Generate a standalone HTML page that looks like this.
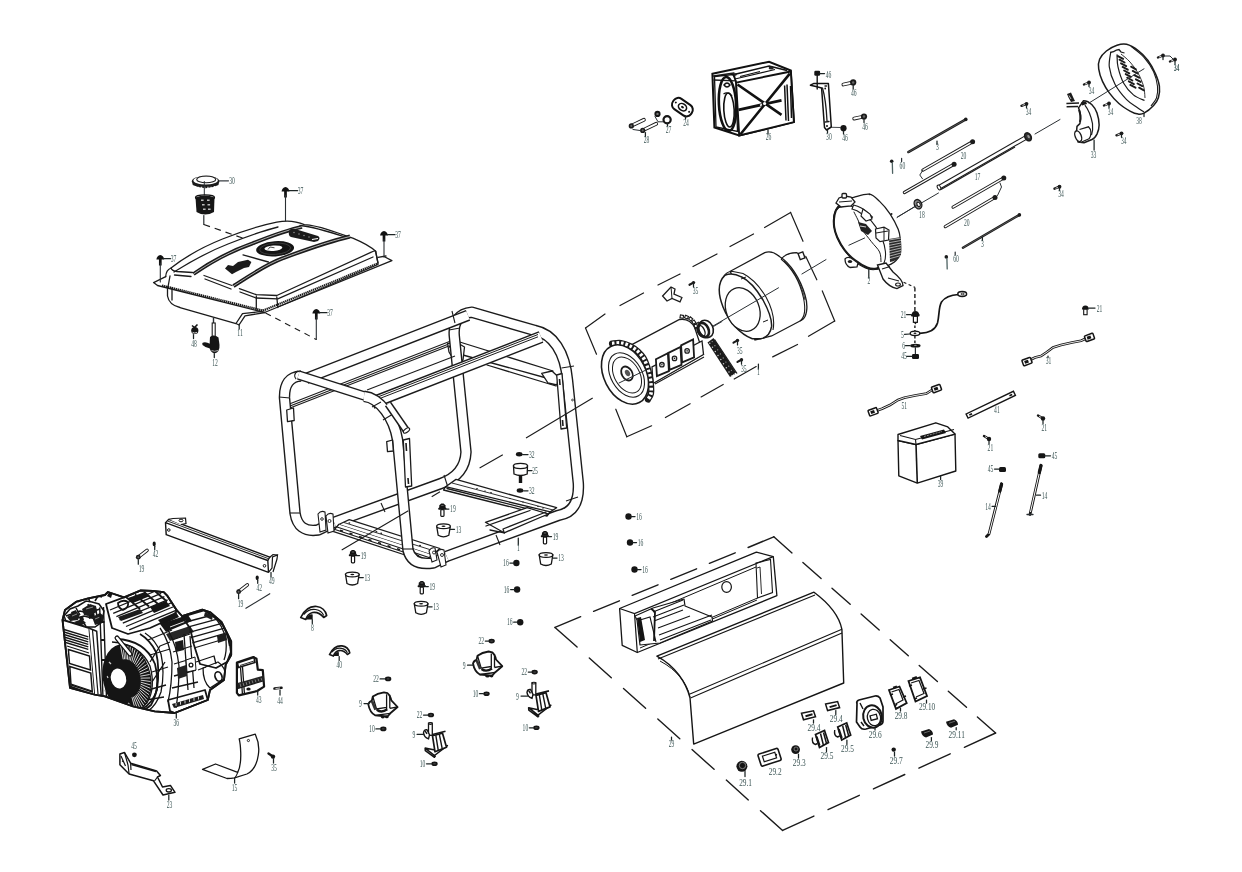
<!DOCTYPE html>
<html><head><meta charset="utf-8"><style>
html,body{margin:0;padding:0;background:#fff;width:1242px;height:872px;overflow:hidden}
svg{display:block}
.l{font-family:"Liberation Serif",serif;font-size:9.4px;fill:#3d5656}
</style></head><body>
<svg width="1242" height="872" viewBox="0 0 1242 872">
<rect width="1242" height="872" fill="#fff"/>
<path d="M459.7,342 L553,371 M452,352 L550,379 M487,365 L556,386" stroke="#1b1b1b" fill="none" stroke-width="1.3" stroke-linejoin="round" stroke-linecap="round"/>
<path d="M541.7,373.3 L552,371 L558.3,377 L557,385 L548,383 Z" fill="#fff" stroke="#1b1b1b" fill="none" stroke-width="1.3" stroke-linejoin="round" stroke-linecap="round"/>
<path d="M290,403.7 L452,340.5" stroke="#1b1b1b" stroke-width="1.1"/>
<path d="M290,406.0 L452,342.8" stroke="#1b1b1b" stroke-width="1.1"/>
<path d="M290,407.9 L452,344.7" stroke="#1b1b1b" stroke-width="1.1"/>
<path d="M447.6,343.7 L456,342 L464.5,347 L463,360 L455,362.2 L449,352 Z" fill="#fff" stroke="#1b1b1b" fill="none" stroke-width="1.3" stroke-linejoin="round" stroke-linecap="round"/>
<path d="M449,346 L458,356 M452,345 L461,355" stroke="#1b1b1b" fill="none" stroke-width="1.3" stroke-linejoin="round" stroke-linecap="round"/>
<path d="M334,522.3 L441,483.5 Q465,475 466,452 L454.3,336 Q452.5,314 472,312.2 L535,330.5 C553,334 565,352 567.5,380 L578.3,483 Q580,512 558,515.5 L446.6,556.4" stroke="#1b1b1b" stroke-width="11.5" fill="none" stroke-linecap="butt" stroke-linejoin="round"/><path d="M334,522.3 L441,483.5 Q465,475 466,452 L454.3,336 Q452.5,314 472,312.2 L535,330.5 C553,334 565,352 567.5,380 L578.3,483 Q580,512 558,515.5 L446.6,556.4" stroke="#fff" stroke-width="8.7" fill="none" stroke-linecap="butt" stroke-linejoin="round"/>
<path d="M449,330 L460,328" stroke="#1b1b1b" stroke-width="1.1"/>
<path d="M444,475 L448,487.5" stroke="#1b1b1b" stroke-width="1.1"/>
<path d="M561.5,368 L574,366" stroke="#1b1b1b" stroke-width="1.1"/>
<path d="M566,501 L578,497" stroke="#1b1b1b" stroke-width="1.1"/>
<path d="M306,378.5 L468,315.3" stroke="#1b1b1b" stroke-width="11.5" fill="none" stroke-linecap="butt" stroke-linejoin="round"/><path d="M306,378.5 L468,315.3" stroke="#fff" stroke-width="8.7" fill="none" stroke-linecap="butt" stroke-linejoin="round"/>
<path d="M452,311 L455,323" stroke="#1b1b1b" stroke-width="1.1"/>
<path d="M367,390 L455,355.9" stroke="#1b1b1b" stroke-width="1.1"/>
<path d="M372,402.9 L541,337.0" stroke="#1b1b1b" stroke-width="12.4" fill="none" stroke-linecap="butt" stroke-linejoin="round"/><path d="M372,402.9 L541,337.0" stroke="#fff" stroke-width="9.600000000000001" fill="none" stroke-linecap="butt" stroke-linejoin="round"/>
<path d="M378,396.9 L538,334.5" stroke="#1b1b1b" stroke-width="1.0"/>
<path d="M378,399.2 L538,336.8" stroke="#1b1b1b" stroke-width="1.0"/>
<path d="M301,376 Q284,377 284.5,398 L295,513 Q298,533 318,530 L334,522.3" stroke="#1b1b1b" stroke-width="11.5" fill="none" stroke-linecap="butt" stroke-linejoin="round"/><path d="M301,376 Q284,377 284.5,398 L295,513 Q298,533 318,530 L334,522.3" stroke="#fff" stroke-width="8.7" fill="none" stroke-linecap="butt" stroke-linejoin="round"/>
<path d="M279,397 L290,398" stroke="#1b1b1b" stroke-width="1.1"/>
<path d="M290,513 L300,513" stroke="#1b1b1b" stroke-width="1.1"/>
<path d="M298.5,375 L366,396.5" stroke="#1b1b1b" stroke-width="9.5" fill="none" stroke-linecap="butt" stroke-linejoin="round"/><path d="M298.5,375 L366,396.5" stroke="#fff" stroke-width="6.7" fill="none" stroke-linecap="butt" stroke-linejoin="round"/>
<path d="M349.3,519.7 L440,548.5 L432,555 L338.7,524.5 Z" fill="#fff" stroke="#1b1b1b" fill="none" stroke-width="1.3" stroke-linejoin="round" stroke-linecap="round"/>
<path d="M338.7,524.5 L332.9,531.3 L425,561.5 L432,555" fill="#fff" stroke="#1b1b1b" fill="none" stroke-width="1.3" stroke-linejoin="round" stroke-linecap="round"/>
<path d="M337,527 L429,557.5 M335,529.5 L427,559.8" stroke="#1b1b1b" stroke-width="1.2"/>
<path d="M344,522.5 L436,551.5" stroke="#1b1b1b" stroke-width="0.9"/>
<path d="M340.0,530.2 L343.0,531.2" stroke="#1b1b1b" stroke-width="1.6"/>
<path d="M349.5,533.3000000000001 L352.5,534.3000000000001" stroke="#1b1b1b" stroke-width="1.6"/>
<path d="M359.0,536.4000000000001 L362.0,537.4000000000001" stroke="#1b1b1b" stroke-width="1.6"/>
<path d="M368.5,539.5 L371.5,540.5" stroke="#1b1b1b" stroke-width="1.6"/>
<path d="M378.0,542.6 L381.0,543.6" stroke="#1b1b1b" stroke-width="1.6"/>
<path d="M387.5,545.7 L390.5,546.7" stroke="#1b1b1b" stroke-width="1.6"/>
<path d="M397.0,548.8000000000001 L400.0,549.8000000000001" stroke="#1b1b1b" stroke-width="1.6"/>
<path d="M406.5,551.9000000000001 L409.5,552.9000000000001" stroke="#1b1b1b" stroke-width="1.6"/>
<path d="M416.0,555.0 L419.0,556.0" stroke="#1b1b1b" stroke-width="1.6"/>
<ellipse cx="349.3" cy="523" rx="1" ry="0.7" fill="#1b1b1b"/>
<ellipse cx="376.4" cy="531.7" rx="1" ry="0.7" fill="#1b1b1b"/>
<ellipse cx="381.2" cy="533.2" rx="1" ry="0.7" fill="#1b1b1b"/>
<ellipse cx="407" cy="541.5" rx="1" ry="0.7" fill="#1b1b1b"/>
<ellipse cx="420" cy="545.5" rx="1" ry="0.7" fill="#1b1b1b"/>
<path d="M364,396.3 C380,398 394,418 397.6,440 L408,550 Q412,566 433,563 L446.6,556.4" stroke="#1b1b1b" stroke-width="11.5" fill="none" stroke-linecap="butt" stroke-linejoin="round"/><path d="M364,396.3 C380,398 394,418 397.6,440 L408,550 Q412,566 433,563 L446.6,556.4" stroke="#fff" stroke-width="8.7" fill="none" stroke-linecap="butt" stroke-linejoin="round"/>
<path d="M372,407 L381,402" stroke="#1b1b1b" stroke-width="1.1"/>
<path d="M383,420 L393,414" stroke="#1b1b1b" stroke-width="1.1"/>
<path d="M402.5,549 L413.5,549" stroke="#1b1b1b" stroke-width="1.1"/>
<path d="M297.7,371 Q292.5,375 296.1,379.1" stroke="#1b1b1b" stroke-width="1.1" fill="none"/>
<path d="M388,404 L406,430" stroke="#1b1b1b" stroke-width="7.5" fill="none" stroke-linecap="butt" stroke-linejoin="round"/><path d="M388,404 L406,430" stroke="#fff" stroke-width="4.7" fill="none" stroke-linecap="butt" stroke-linejoin="round"/>
<ellipse cx="406.5" cy="430.5" rx="3.6" ry="1.8" fill="#fff" stroke="#1b1b1b" stroke-width="1.1" transform="rotate(-35 406.5 430.5)"/>
<path d="M286.7,410 L293.5,408 L294.2,420.5 L287.5,421.7 Z" fill="#fff" stroke="#1b1b1b" fill="none" stroke-width="1.3" stroke-linejoin="round" stroke-linecap="round"/>
<path d="M386.7,441.7 L392.5,440 L393.3,451 L387.5,451.7 Z" fill="#fff" stroke="#1b1b1b" fill="none" stroke-width="1.3" stroke-linejoin="round" stroke-linecap="round"/>
<path d="M403.3,440 L409.5,438.5 L411.7,486 L405.5,487 Z" fill="#fff" stroke="#1b1b1b" fill="none" stroke-width="1.3" stroke-linejoin="round" stroke-linecap="round"/>
<path d="M406,443 L406.5,451 M408,478 L408.5,484" stroke="#1b1b1b" stroke-width="1.6"/>
<path d="M556.7,375 L562,373.5 L566.7,428 L561,429 Z" fill="#fff" stroke="#1b1b1b" fill="none" stroke-width="1.3" stroke-linejoin="round" stroke-linecap="round"/>
<path d="M559.5,379 L560,385 M562.5,420 L563,426" stroke="#1b1b1b" stroke-width="1.6"/>
<circle cx="572.5" cy="400" r="0.9" fill="none" stroke="#1b1b1b" stroke-width="0.8"/>
<path d="M456,479.4 L556.6,507.7 L550.3,511.9 L445.6,486.7 Z" fill="#fff" stroke="#1b1b1b" fill="none" stroke-width="1.3" stroke-linejoin="round" stroke-linecap="round"/>
<path d="M445.6,486.7 L443.5,490 L547,516 L550.3,511.9 M447,488.5 L548,514" stroke="#1b1b1b" fill="none" stroke-width="1.3" stroke-linejoin="round" stroke-linecap="round"/>
<path d="M452,483 L553,510" stroke="#1b1b1b" stroke-width="0.9"/>
<ellipse cx="477" cy="488.5" rx="0.9" ry="0.6" fill="#1b1b1b"/>
<ellipse cx="485" cy="491" rx="0.9" ry="0.6" fill="#1b1b1b"/>
<ellipse cx="491" cy="492.5" rx="0.9" ry="0.6" fill="#1b1b1b"/>
<ellipse cx="510" cy="498.5" rx="0.9" ry="0.6" fill="#1b1b1b"/>
<ellipse cx="523" cy="502" rx="0.9" ry="0.6" fill="#1b1b1b"/>
<ellipse cx="538" cy="506.5" rx="0.9" ry="0.6" fill="#1b1b1b"/>
<ellipse cx="543" cy="508" rx="0.9" ry="0.6" fill="#1b1b1b"/>
<path d="M485.4,522.3 L527.2,507.7 L548.2,514 L504.2,532.8 Z" fill="#fff" stroke="#1b1b1b" fill="none" stroke-width="1.3" stroke-linejoin="round" stroke-linecap="round"/>
<path d="M486,526 L530,510.5 M504.2,532.8 L503,529 L546,512" stroke="#1b1b1b" fill="none" stroke-width="1.3" stroke-linejoin="round" stroke-linecap="round"/>
<path d="M490,530 L504.2,532.8" stroke="#1b1b1b" fill="none" stroke-width="1.3" stroke-linejoin="round" stroke-linecap="round"/>
<path d="M429,551 Q431,547 435,548 L437,560 L432,562 Z M437,552 Q440,548 444,550 L446,565 L441,567 Z" fill="#fff" stroke="#1b1b1b" stroke-width="1.1"/>
<circle cx="434" cy="552.5" r="1.5" fill="none" stroke="#1b1b1b" stroke-width="0.9"/><circle cx="442" cy="555" r="1.5" fill="none" stroke="#1b1b1b" stroke-width="0.9"/>
<path d="M318,514 Q321,510 325,512 L326,530 L320,532 Z M326,516 Q329,512 333,514 L334,531 L328,533 Z" fill="#fff" stroke="#1b1b1b" stroke-width="1.1"/>
<circle cx="329.5" cy="521" r="1.5" fill="none" stroke="#1b1b1b" stroke-width="0.9"/><circle cx="322" cy="519" r="1.3" fill="none" stroke="#1b1b1b" stroke-width="0.9"/>
<path d="M381,503 L385,512" stroke="#1b1b1b" stroke-width="1.1"/>
<path d="M496,535 L500,545" stroke="#1b1b1b" stroke-width="1.1"/>
<path d="M341.7,550 L408.3,510.8 M431.7,496.7 L440,491.7 M479.6,468 L502.8,454.7 M526,438 L592.7,398" stroke="#1b1b1b" stroke-width="1.1"/>
<path d="M153.6,282.6 L165.7,276.6 M153.6,282.6 L157.5,285.5 L264.5,312.5 L391.9,260.6 L384,256.5 M378,257.3 L386,256" stroke="#1b1b1b" fill="none" stroke-width="1.3" stroke-linejoin="round" stroke-linecap="round"/>
<path d="M162,285.5 L263,310.6 L378,263.3" stroke="#1b1b1b" stroke-width="2.2" fill="none" stroke-dasharray="1.4 0.6"/>
<path d="M167.5,287 L167.5,296 Q169,305 180,307.5 L236,323.5 L242.5,313.7 L262,311.3 M172,288 L172,300 M239,325 L245,315.8 L265,312.5 M236,323.5 L239,325" stroke="#1b1b1b" fill="none" stroke-width="1.3" stroke-linejoin="round" stroke-linecap="round"/>
<path d="M165.7,276.6 Q166,270 171,268 C185,257 205,246 222.5,239 C240,232 258,226 276.8,222.2 C285,220.5 296,221 304.3,224.7 C320,226 336,232 353.9,238.6 C362,242 370,246 375.6,251.2 L378,263.3" stroke="#1b1b1b" fill="none" stroke-width="1.3" stroke-linejoin="round" stroke-linecap="round"/>
<path d="M174,272 C190,262 210,251 228,244 C248,236 262,231 278,227 M300,225.5 C315,227 330,232 345,237" stroke="#1b1b1b" fill="none" stroke-width="1.3" stroke-linejoin="round" stroke-linecap="round"/>
<path d="M171,268 Q172,271 177,271.5 L192.5,272.5 M204,275.5 L232,285.5 M239.4,288.7 L256.3,294.7 L276.8,295.5 L370.8,252.4 Q375,250.5 375.6,251.2" stroke="#1b1b1b" fill="none" stroke-width="1.3" stroke-linejoin="round" stroke-linecap="round"/>
<path d="M174.5,275 L191,276.5 M205,279 L231,289 M240,292 L256,298 L277.8,298.8 L373,257" stroke="#1b1b1b" fill="none" stroke-width="1.3" stroke-linejoin="round" stroke-linecap="round"/>
<path d="M168,287 L170,276 M256.3,296 L256.3,309 M276.8,297 L277.8,307.5 M375.6,251.2 L378,263 M277.8,307 L378,264.5" stroke="#1b1b1b" fill="none" stroke-width="1.3" stroke-linejoin="round" stroke-linecap="round"/>
<path d="M193.5,274 C210,262.5 232,250.5 252.7,243.3 C270,236.5 285,230.5 302,226.8" stroke="#1b1b1b" stroke-width="3.9" fill="none"/>
<path d="M193.5,274 C210,262.5 232,250.5 252.7,243.3 C270,236.5 285,230.5 302,226.8" stroke="#fff" stroke-width="0.65" fill="none"/>
<path d="M233.5,286 C250,275.5 266,264.5 283,258.2 C305,250 325,242.5 350,236.5" stroke="#1b1b1b" stroke-width="3.9" fill="none"/>
<path d="M233.5,286 C250,275.5 266,264.5 283,258.2 C305,250 325,242.5 350,236.5" stroke="#fff" stroke-width="0.65" fill="none"/>
<path d="M243,254.9 L268.4,262" stroke="#1b1b1b" fill="none" stroke-width="1.3" stroke-linejoin="round" stroke-linecap="round"/>
<ellipse cx="275.1" cy="248.8" rx="19" ry="7.6" fill="#141414" transform="rotate(-4 275.1 248.8)"/>
<ellipse cx="275.1" cy="248.8" rx="15.5" ry="5.6" fill="none" stroke="#555" stroke-width="0.6" transform="rotate(-4 275.1 248.8)"/>
<ellipse cx="273.4" cy="248.2" rx="9" ry="2.7" fill="#fff" transform="rotate(-4 273.4 248.2)"/>
<path d="M268,249.5 L270,247 L274.5,247.8" stroke="#1b1b1b" stroke-width="0.8" fill="none"/>
<path d="M225,268.5 L228,265 L233,266 L238,262 L248,259.7 L251.4,262 L249,267 L244,268 L236,272 L232,274.2 Z" fill="#1b1b1b"/>
<path d="M289,231 Q290,228 295,229 L318,236 Q321,238 318,241 L314,242 L291,237 Q288,236 289,231 Z" fill="#1b1b1b"/>
<path d="M312,239.5 L318,238.5" stroke="#fff" stroke-width="1.2"/>
<circle cx="294" cy="232.5" r="0.8" fill="#888"/>
<circle cx="299" cy="234.0" r="0.8" fill="#888"/>
<circle cx="304" cy="235.5" r="0.8" fill="#888"/>
<circle cx="309" cy="237.0" r="0.8" fill="#888"/>
<ellipse cx="205.6" cy="181.5" rx="13.8" ry="5.6" fill="#1b1b1b"/>
<ellipse cx="205.6" cy="180.4" rx="12.2" ry="4.2" fill="#fff"/>
<ellipse cx="206.2" cy="179.4" rx="9.5" ry="3.4" fill="none" stroke="#1b1b1b" stroke-width="1.1"/>
<path d="M192.5,183 Q205.6,190 218.7,183 L218.5,185 Q205.6,191.5 192.7,185 Z" fill="#1b1b1b"/>
<rect x="194.5" y="186.0" width="1.2" height="1" fill="#fff"/>
<rect x="197.7" y="186.79999999999998" width="1.2" height="1" fill="#fff"/>
<rect x="200.9" y="186.79999999999998" width="1.2" height="1" fill="#fff"/>
<rect x="204.1" y="186.79999999999998" width="1.2" height="1" fill="#fff"/>
<rect x="207.3" y="186.79999999999998" width="1.2" height="1" fill="#fff"/>
<rect x="210.5" y="186.79999999999998" width="1.2" height="1" fill="#fff"/>
<rect x="213.7" y="186.0" width="1.2" height="1" fill="#fff"/>
<path d="M219.4,180.8 L228.5,180.8" stroke="#3a3f44" stroke-width="1.2" fill="none" stroke-linecap="round" stroke-linejoin="round"/>
<path d="M204.3,181.5 L204.3,195" stroke="#2a2f33" stroke-width="1.0" fill="none" stroke-linecap="round" stroke-linejoin="round"/>
<path d="M195.5,197.5 Q205,193.5 214.5,197.5 L214,212 Q205,217 196.5,212 Z" fill="#161616"/>
<ellipse cx="205" cy="197.5" rx="9.5" ry="2.6" fill="none" stroke="#111" stroke-width="1.3"/>
<rect x="201" y="199.5" width="2.6" height="1.5" fill="#bbb"/>
<rect x="207" y="199.5" width="2.6" height="1.5" fill="#bbb"/>
<rect x="202" y="204" width="2.6" height="1.5" fill="#bbb"/>
<rect x="207.5" y="204" width="2.6" height="1.5" fill="#bbb"/>
<rect x="203" y="208.5" width="2.6" height="1.5" fill="#bbb"/>
<rect x="208" y="208.5" width="2.6" height="1.5" fill="#bbb"/>
<path d="M203.8,215.5 L203.8,224.5" stroke="#2a2f33" stroke-width="1.2" fill="none" stroke-linecap="round" stroke-linejoin="round"/>
<path d="M203.8,224.5 L244,238.5" stroke="#1b1b1b" stroke-width="1.2" fill="none" stroke-dasharray="6.5 5" stroke-dashoffset="0"/>
<path d="M281.6,191.5 Q282.1,187.9 285.5,187.1 Q288.9,187.9 289.4,191.5 Z" fill="#111"/>
<rect x="284.15" y="191.0" width="2.7" height="6.5" fill="#111"/>
<path d="M289.0,190.7 L297.5,190.7" stroke="#1c2424" stroke-width="1.25" fill="none" stroke-linecap="round" stroke-linejoin="round"/>
<path d="M285.5,195 L285.5,221" stroke="#2a2f33" stroke-width="1.1" fill="none" stroke-linecap="round" stroke-linejoin="round"/>
<path d="M380.1,235.5 Q380.6,231.9 384,231.1 Q387.4,231.9 387.9,235.5 Z" fill="#111"/>
<rect x="382.65" y="235.0" width="2.7" height="6.5" fill="#111"/>
<path d="M387.5,234.7 L395,234.7" stroke="#1c2424" stroke-width="1.25" fill="none" stroke-linecap="round" stroke-linejoin="round"/>
<path d="M384,239 L384,257" stroke="#2a2f33" stroke-width="1.1" fill="none" stroke-linecap="round" stroke-linejoin="round"/>
<path d="M156.4,259.5 Q156.9,255.9 160.3,255.1 Q163.70000000000002,255.9 164.20000000000002,259.5 Z" fill="#111"/>
<rect x="158.95000000000002" y="259.0" width="2.7" height="6.5" fill="#111"/>
<path d="M163.8,258.7 L170.5,258.7" stroke="#1c2424" stroke-width="1.25" fill="none" stroke-linecap="round" stroke-linejoin="round"/>
<path d="M160.3,263 L160.3,282" stroke="#2a2f33" stroke-width="1.1" fill="none" stroke-linecap="round" stroke-linejoin="round"/>
<path d="M312.40000000000003,313.5 Q312.90000000000003,309.9 316.3,309.1 Q319.7,309.9 320.2,313.5 Z" fill="#111"/>
<rect x="314.95" y="313.0" width="2.7" height="6.5" fill="#111"/>
<path d="M319.8,312.7 L327,312.7" stroke="#1c2424" stroke-width="1.25" fill="none" stroke-linecap="round" stroke-linejoin="round"/>
<path d="M316.3,317 L316.3,339.5" stroke="#2a2f33" stroke-width="1.1" fill="none" stroke-linecap="round" stroke-linejoin="round"/>
<path d="M265.5,313 L316.3,339.5" stroke="#1b1b1b" stroke-width="1.1" fill="none" stroke-dasharray="6 5" stroke-dashoffset="0"/>
<path d="M213.5,318 L213.5,323" stroke="#2a2f33" stroke-width="1.4" fill="none" stroke-linecap="round" stroke-linejoin="round"/>
<rect x="212.2" y="323" width="3" height="13.5" fill="#fff" stroke="#1b1b1b" stroke-width="1.1"/>
<path d="M210,337 Q214,334 218.5,337.5 L219.5,345 Q220,352 214.5,353.5 Q209.5,352 209.5,346 Z" fill="#151515"/>
<path d="M202.3,343 Q205,341 210.5,344 L210,348.5 Q205,347.5 202.5,345 Z" fill="#151515"/>
<path d="M211.5,350.5 Q214.5,352 218,350.5" stroke="#ccc" stroke-width="0.8" fill="none"/>
<path d="M214.3,353.5 L214.3,357.5" stroke="#1c2424" stroke-width="1.25" fill="none" stroke-linecap="round" stroke-linejoin="round"/>
<circle cx="194.8" cy="330.5" r="3.6" fill="#151515"/>
<path d="M192,325.5 L194.5,327.5 L197.5,324.5" stroke="#151515" stroke-width="1.6" fill="none"/>
<path d="M192.5,332.3 Q194.8,333.8 197,332.3" stroke="#ddd" stroke-width="0.9" fill="none"/>
<path d="M193.5,334.5 L193.5,338.5" stroke="#1c2424" stroke-width="1.25" fill="none" stroke-linecap="round" stroke-linejoin="round"/>
<path d="M239.2,324 L239.2,329" stroke="#1c2424" stroke-width="1.25" fill="none" stroke-linecap="round" stroke-linejoin="round"/>
<path d="M712.4,73.8 L769.1,61.7 L790.8,70.5 L793.9,122.1 L739.2,135.5 L714.4,127.4 Z" fill="#fff" stroke="#111" stroke-width="2"/>
<path d="M713.5,76 L734,73 M714,80 L736,80.8" stroke="#1b1b1b" fill="none" stroke-width="1.3" stroke-linejoin="round" stroke-linecap="round"/>
<path d="M736.1,82.6 L790.8,71.5 L793.9,122.1 L739.2,135.5 Z" fill="#fff" stroke="#111" stroke-width="1.9"/>
<path d="M737.5,84.5 L781.5,114.9 M789.8,73.6 L740.5,134.2" stroke="#111" stroke-width="2.6"/>
<path d="M738.5,109.8 L781.5,100.4" stroke="#111" stroke-width="2.8"/>
<path d="M760,105.2 L762,104.8" stroke="#fff" stroke-width="1.4"/>
<circle cx="764.6" cy="103.5" r="1.6" fill="#fff"/>
<path d="M736.1,82.6 L734,74.4 M734,74.4 L769.1,66 L787,70.5" stroke="#111" stroke-width="1.5" fill="none"/>
<path d="M740,76.5 L760,71.5 M735,79 L775,69.5" stroke="#111" stroke-width="1.2" fill="none"/>
<ellipse cx="734.5" cy="74.6" rx="2.4" ry="1.4" fill="#222"/>
<ellipse cx="771.2" cy="67.9" rx="2.6" ry="1.6" fill="#222"/>
<path d="M784.6,85.5 L786,120.5 M787,84.5 L788.5,121 M790.5,86 L791.5,118" stroke="#111" stroke-width="1.5" fill="none"/>
<path d="M714.5,76.5 L733,74.5 L736,82 L737.5,131.5 L716,127 Z" fill="none" stroke="#111" stroke-width="1.3"/>
<ellipse cx="727.5" cy="104" rx="8.6" ry="27" fill="none" stroke="#111" stroke-width="2.6" transform="rotate(-3 727.5 104)"/>
<ellipse cx="729" cy="110" rx="5.2" ry="17" fill="none" stroke="#111" stroke-width="1.6" transform="rotate(-3 729 110)"/>
<path d="M724,85 Q727,81 730,85 Q727,89 724,85 Z M723.5,94 Q728,91 732,96" stroke="#111" stroke-width="1.4" fill="none"/>
<path d="M768,130 L768,134" stroke="#1c2424" stroke-width="1.25" fill="none" stroke-linecap="round" stroke-linejoin="round"/>
<path d="M631.3,125.9 L643.9,119.8" stroke="#1b1b1b" stroke-width="3.8" stroke-linecap="round"/>
<path d="M632.6,125.2 L643.9,119.8" stroke="#fff" stroke-width="1.9999999999999998" stroke-linecap="round"/>
<circle cx="631.3" cy="125.9" r="2.6" fill="#1b1b1b"/>
<circle cx="631.3" cy="125.9" r="1.04" fill="#666"/>
<path d="M642.7,130.4 L656.2,123.8" stroke="#1b1b1b" stroke-width="3.8" stroke-linecap="round"/>
<path d="M644.0,129.7 L656.2,123.8" stroke="#fff" stroke-width="1.9999999999999998" stroke-linecap="round"/>
<circle cx="642.7" cy="130.4" r="2.6" fill="#1b1b1b"/>
<circle cx="642.7" cy="130.4" r="1.04" fill="#666"/>
<path d="M633,129.5 L640,130.5" stroke="#2a2f33" stroke-width="1.0" fill="none" stroke-linecap="round" stroke-linejoin="round"/>
<path d="M645.4,132.5 L645.4,136.5" stroke="#1c2424" stroke-width="1.25" fill="none" stroke-linecap="round" stroke-linejoin="round"/>
<circle cx="657.5" cy="113.9" r="3.1" fill="#161616"/><circle cx="657.5" cy="113.9" r="1.2" fill="#777"/>
<circle cx="667.1" cy="119.7" r="3.6" fill="none" stroke="#161616" stroke-width="2.2"/>
<path d="M655,116.5 L658,121.8 L663,121.8" stroke="#2a2f33" stroke-width="1.0" fill="none" stroke-linecap="round" stroke-linejoin="round"/>
<path d="M667.5,123.5 L667.5,126" stroke="#1c2424" stroke-width="1.25" fill="none" stroke-linecap="round" stroke-linejoin="round"/>
<g transform="rotate(35 682.6 107)"><rect x="671.5" y="101" width="22" height="12.5" rx="5.5" fill="#fff" stroke="#111" stroke-width="2"/><ellipse cx="682.6" cy="107.2" rx="4.4" ry="3.3" fill="none" stroke="#111" stroke-width="1.6"/><ellipse cx="682.6" cy="107.2" rx="1.6" ry="1.1" fill="#111"/><circle cx="674.5" cy="107.2" r="1" fill="#111"/><circle cx="690.7" cy="107.2" r="1" fill="#111"/></g>
<path d="M685.5,116 L685.5,119" stroke="#1c2424" stroke-width="1.25" fill="none" stroke-linecap="round" stroke-linejoin="round"/>
<path d="M810.4,85.2 L814,83.4 L828.4,83.6 L831.3,127 L826.5,130 L824.5,127.5 L824,121 L821.6,88 L816,86.5 Z" fill="#fff" stroke="#111" stroke-width="1.5" stroke-linejoin="round"/>
<path d="M822.5,88 Q826,100 827,121 M825,86 L826.5,86 M825,122 L829,121.5" stroke="#1b1b1b" fill="none" stroke-width="1.3" stroke-linejoin="round" stroke-linecap="round"/>
<circle cx="825.2" cy="88.5" r="0.9" fill="#111"/><circle cx="827" cy="126" r="1" fill="#111"/>
<rect x="814.3" y="70.8" width="5.8" height="5" rx="1.2" fill="#151515"/>
<path d="M817.2,75 L817.2,89" stroke="#151515" stroke-width="1.4" fill="none" stroke-linecap="round" stroke-linejoin="round"/>
<path d="M819.5,73.6 L824.5,73.6" stroke="#1c2424" stroke-width="1.25" fill="none" stroke-linecap="round" stroke-linejoin="round"/>
<path d="M853.2,82.4 L843.4,84.5" stroke="#1b1b1b" stroke-width="3.8" stroke-linecap="round"/>
<path d="M851.7,82.7 L843.4,84.5" stroke="#fff" stroke-width="1.9999999999999998" stroke-linecap="round"/>
<circle cx="853.2" cy="82.4" r="3.1" fill="#1b1b1b"/>
<circle cx="853.2" cy="82.4" r="1.2400000000000002" fill="#666"/>
<path d="M853.2,85 L853.2,89" stroke="#1c2424" stroke-width="1.25" fill="none" stroke-linecap="round" stroke-linejoin="round"/>
<path d="M864,116.5 L854.2,118.6" stroke="#1b1b1b" stroke-width="3.8" stroke-linecap="round"/>
<path d="M862.5,116.8 L854.2,118.6" stroke="#fff" stroke-width="1.9999999999999998" stroke-linecap="round"/>
<circle cx="864" cy="116.5" r="3.1" fill="#1b1b1b"/>
<circle cx="864" cy="116.5" r="1.2400000000000002" fill="#666"/>
<path d="M864,119 L864,122.5" stroke="#1c2424" stroke-width="1.25" fill="none" stroke-linecap="round" stroke-linejoin="round"/>
<circle cx="843.5" cy="128.2" r="3.1" fill="#151515"/>
<path d="M832,127.3 L840.5,127.5" stroke="#2a2f33" stroke-width="0.9" fill="none" stroke-linecap="round" stroke-linejoin="round"/>
<path d="M843.5,131 L843.5,134" stroke="#1c2424" stroke-width="1.25" fill="none" stroke-linecap="round" stroke-linejoin="round"/>
<path d="M827.5,130 L827.5,133" stroke="#1c2424" stroke-width="1.25" fill="none" stroke-linecap="round" stroke-linejoin="round"/>
<path d="M908.3,152.1 L965.8,119.4" stroke="#1b1b1b" stroke-width="2.4" stroke-linecap="round"/>
<path d="M908.3,152.1 L965.8,119.4" stroke="#777" stroke-width="0.6" stroke-linecap="round"/>
<circle cx="965.8" cy="119.4" r="1.8" fill="#1b1b1b"/>
<path d="M937,141 L937,144.5" stroke="#1c2424" stroke-width="1.25" fill="none" stroke-linecap="round" stroke-linejoin="round"/>
<path d="M922.9,170.1 L972.6,141.8" stroke="#1b1b1b" stroke-width="3.3" stroke-linecap="round"/>
<path d="M922.9,170.1 L972.6,141.8" stroke="#fff" stroke-width="1.4" stroke-linecap="round"/>
<circle cx="972.6" cy="141.8" r="2.5" fill="#1b1b1b"/>
<path d="M904.4,192.5 L954.1,164.2" stroke="#1b1b1b" stroke-width="3.3" stroke-linecap="round"/>
<path d="M904.4,192.5 L954.1,164.2" stroke="#fff" stroke-width="1.4" stroke-linecap="round"/>
<circle cx="954.1" cy="164.2" r="2.5" fill="#1b1b1b"/>
<path d="M922.9,170.1 L919.8,175 L922.5,178.8" stroke="#2a2f33" stroke-width="1.0" fill="none" stroke-linecap="round" stroke-linejoin="round"/>
<path d="M938.5,187.6 L1026,137.5" stroke="#1b1b1b" stroke-width="4.8" stroke-linecap="butt"/>
<path d="M938.5,187.6 L1026,137.5" stroke="#fff" stroke-width="2.6"/>
<path d="M941,189.5 L1015,147" stroke="#1b1b1b" stroke-width="1.3"/>
<ellipse cx="939" cy="187.5" rx="1.5" ry="2.6" fill="#fff" stroke="#1b1b1b" stroke-width="1" transform="rotate(-30 939 187.5)"/>
<ellipse cx="1028" cy="136.8" rx="3" ry="4.2" fill="#333" stroke="#1b1b1b" stroke-width="1.6" transform="rotate(-30 1028 136.8)"/><ellipse cx="1028.6" cy="136.6" rx="1.1" ry="1.8" fill="#999" transform="rotate(-30 1028.6 136.6)"/>
<path d="M897.5,216.9 L938.5,193" stroke="#2a2f33" stroke-width="1.0" fill="none" stroke-linecap="round" stroke-linejoin="round"/>
<path d="M1035,134 L1060,119.5" stroke="#2a2f33" stroke-width="1.0" fill="none" stroke-linecap="round" stroke-linejoin="round"/>
<ellipse cx="918" cy="204.2" rx="3.6" ry="4.8" fill="#8a8a8a" stroke="#1b1b1b" stroke-width="1.4" transform="rotate(-25 918 204.2)"/><ellipse cx="918.6" cy="204.4" rx="1.5" ry="2.3" fill="#fff" stroke="#1b1b1b" stroke-width="1" transform="rotate(-25 918.6 204.4)"/>
<path d="M953.1,207.1 L1003.8,177.9" stroke="#1b1b1b" stroke-width="3.3" stroke-linecap="round"/>
<path d="M953.1,207.1 L1003.8,177.9" stroke="#fff" stroke-width="1.4" stroke-linecap="round"/>
<circle cx="1003.8" cy="177.9" r="2.5" fill="#1b1b1b"/>
<path d="M945.3,226.6 L995,197.4" stroke="#1b1b1b" stroke-width="3.3" stroke-linecap="round"/>
<path d="M945.3,226.6 L995,197.4" stroke="#fff" stroke-width="1.4" stroke-linecap="round"/>
<circle cx="995" cy="197.4" r="2.5" fill="#1b1b1b"/>
<path d="M1000,183 L1001.5,187 L997.5,195.5" stroke="#2a2f33" stroke-width="1.0" fill="none" stroke-linecap="round" stroke-linejoin="round"/>
<path d="M962.9,247.7 L1019.4,214.9" stroke="#1b1b1b" stroke-width="2.4" stroke-linecap="round"/>
<path d="M962.9,247.7 L1019.4,214.9" stroke="#777" stroke-width="0.6" stroke-linecap="round"/>
<circle cx="1019.4" cy="214.9" r="1.8" fill="#1b1b1b"/>
<path d="M982.4,237 L982.4,240.5" stroke="#1c2424" stroke-width="1.25" fill="none" stroke-linecap="round" stroke-linejoin="round"/>
<circle cx="891.7" cy="161.3" r="1.8" fill="#1b1b1b"/>
<path d="M892.3000000000001,162.8 L892.6,173.3" stroke="#4d6262" stroke-width="1.3" fill="none" stroke-linecap="round" stroke-linejoin="round"/>
<path d="M901.6,158.4 L901.6,161.4" stroke="#2a2f33" stroke-width="1.2" fill="none" stroke-linecap="round" stroke-linejoin="round"/>
<circle cx="946.3" cy="256.9" r="1.8" fill="#1b1b1b"/>
<path d="M946.9,258.4 L947.1999999999999,268.9" stroke="#4d6262" stroke-width="1.3" fill="none" stroke-linecap="round" stroke-linejoin="round"/>
<path d="M955.2,252 L955.2,255" stroke="#2a2f33" stroke-width="1.2" fill="none" stroke-linecap="round" stroke-linejoin="round"/>
<path d="M1021.5,105.8 L1026.5,103.8" stroke="#1b1b1b" stroke-width="2.4" stroke-linecap="round"/>
<path d="M1022.5,105.39999999999999 L1025.5,104.2" stroke="#fff" stroke-width="0.8"/>
<circle cx="1026.5" cy="103.8" r="1.9" fill="#1b1b1b"/>
<path d="M1026.5,105.3 L1026.5,107.8" stroke="#1c2424" stroke-width="1.25" fill="none" stroke-linecap="round" stroke-linejoin="round"/>
<path d="M1054.5,188.7 L1059.5,186.7" stroke="#1b1b1b" stroke-width="2.4" stroke-linecap="round"/>
<path d="M1055.5,188.29999999999998 L1058.5,187.1" stroke="#fff" stroke-width="0.8"/>
<circle cx="1059.5" cy="186.7" r="1.9" fill="#1b1b1b"/>
<path d="M1059.5,188.2 L1059.5,190.7" stroke="#1c2424" stroke-width="1.25" fill="none" stroke-linecap="round" stroke-linejoin="round"/>
<path d="M1084,84.5 L1089,82.5" stroke="#1b1b1b" stroke-width="2.4" stroke-linecap="round"/>
<path d="M1085,84.1 L1088,82.9" stroke="#fff" stroke-width="0.8"/>
<circle cx="1089" cy="82.5" r="1.9" fill="#1b1b1b"/>
<path d="M1089,84.0 L1089,86.5" stroke="#1c2424" stroke-width="1.25" fill="none" stroke-linecap="round" stroke-linejoin="round"/>
<path d="M1104,105.5 L1109,103.5" stroke="#1b1b1b" stroke-width="2.4" stroke-linecap="round"/>
<path d="M1105,105.1 L1108,103.9" stroke="#fff" stroke-width="0.8"/>
<circle cx="1109" cy="103.5" r="1.9" fill="#1b1b1b"/>
<path d="M1109,105.0 L1109,107.5" stroke="#1c2424" stroke-width="1.25" fill="none" stroke-linecap="round" stroke-linejoin="round"/>
<path d="M1116.5,135.3 L1121.5,133.3" stroke="#1b1b1b" stroke-width="2.4" stroke-linecap="round"/>
<path d="M1117.5,134.9 L1120.5,133.70000000000002" stroke="#fff" stroke-width="0.8"/>
<circle cx="1121.5" cy="133.3" r="1.9" fill="#1b1b1b"/>
<path d="M1121.5,134.8 L1121.5,137.3" stroke="#1c2424" stroke-width="1.25" fill="none" stroke-linecap="round" stroke-linejoin="round"/>
<path d="M1158,57.5 L1163,55.5" stroke="#1b1b1b" stroke-width="2.4" stroke-linecap="round"/>
<path d="M1159,57.1 L1162,55.9" stroke="#fff" stroke-width="0.8"/>
<circle cx="1163" cy="55.5" r="1.9" fill="#1b1b1b"/>
<path d="M1163,57.0 L1163,59.5" stroke="#1c2424" stroke-width="1.25" fill="none" stroke-linecap="round" stroke-linejoin="round"/>
<path d="M1170,61.5 L1175,59.5" stroke="#1b1b1b" stroke-width="2.4" stroke-linecap="round"/>
<path d="M1171,61.1 L1174,59.9" stroke="#fff" stroke-width="0.8"/>
<circle cx="1175" cy="59.5" r="1.9" fill="#1b1b1b"/>
<path d="M1175,61.0 L1175,63.5" stroke="#1c2424" stroke-width="1.25" fill="none" stroke-linecap="round" stroke-linejoin="round"/>
<path d="M1164,56 L1170,56 L1173,59" stroke="#2a2f33" stroke-width="1" fill="none" stroke-linecap="round" stroke-linejoin="round"/>
<path d="M1106.4,51.0 C1109.3,48.7 1113.6,46.3 1117.0,45.2 C1120.4,44.1 1123.1,43.4 1126.6,44.3 C1130.1,45.2 1134.7,47.9 1138.2,50.5 C1141.7,53.1 1144.9,56.3 1147.8,60.2 C1150.7,64.1 1153.6,69.4 1155.5,73.7 C1157.4,78.0 1158.9,82.2 1159.4,86.2 C1159.9,90.2 1159.4,94.6 1158.4,97.8 C1157.4,101.0 1156.0,102.9 1153.6,105.5 C1151.2,108.1 1146.6,111.8 1144.0,113.2 C1141.4,114.6 1140.5,114.4 1138.2,114.1 C1136.0,113.8 1133.7,113.1 1130.5,111.3 C1127.3,109.5 1122.4,106.6 1118.9,103.5 C1115.4,100.4 1112.0,96.6 1109.3,92.9 C1106.6,89.2 1104.3,85.4 1102.5,81.4 C1100.7,77.4 1099.2,72.5 1098.7,68.8 C1098.2,65.1 1098.3,62.2 1099.6,59.2 C1100.9,56.2 1103.5,53.3 1106.4,51.0 Z" fill="#fff" stroke="#1b1b1b" stroke-width="1.5"/>
<path d="M1131.4,46.7 C1133.5,48.5 1140.3,53.1 1144.0,57.3 C1147.7,61.5 1151.3,66.9 1153.6,71.7 C1155.8,76.5 1157.0,81.9 1157.5,86.2 C1158.0,90.5 1157.6,94.5 1156.5,97.8 C1155.4,101.1 1151.9,104.6 1151.0,106.0" fill="none" stroke="#1b1b1b" stroke-width="1.1"/>
<path d="M1110.7,52.5 C1110.5,54.9 1108.6,61.6 1109.3,66.9 C1110.0,72.2 1112.1,78.8 1115.0,84.3 C1117.9,89.8 1122.9,95.8 1126.6,99.7 C1130.3,103.6 1134.3,105.4 1137.2,107.4 C1140.1,109.5 1142.9,111.2 1144.0,112.0" fill="none" stroke="#1b1b1b" stroke-width="1.2"/>
<path d="M1117.0,54.4 C1117.2,56.5 1116.9,62.1 1118.0,66.9 C1119.1,71.7 1121.1,78.6 1123.7,83.3 C1126.3,88.0 1129.9,92.0 1133.4,94.9 C1136.9,97.8 1142.7,99.6 1144.5,100.5" fill="none" stroke="#1b1b1b" stroke-width="1.2"/>
<path d="M1121.0,54.0 C1122.5,55.3 1127.2,58.8 1130.0,62.0 C1132.8,65.2 1135.8,69.0 1138.0,73.0 C1140.2,77.0 1142.3,81.8 1143.5,86.0 C1144.7,90.2 1144.8,96.0 1145.0,98.0" fill="none" stroke="#1b1b1b" stroke-width="0.9"/>
<path d="M1110,52.5 Q1114,52 1116.5,50 L1119,49.5 L1121,52 L1124.5,53" stroke="#1b1b1b" stroke-width="1.3" fill="none"/>
<path d="M1117.9,56.1 L1123.1,58.9" stroke="#1b1b1b" stroke-width="1.9" stroke-linecap="round"/>
<path d="M1119.5,59.7 L1124.6,62.5" stroke="#1b1b1b" stroke-width="1.9" stroke-linecap="round"/>
<path d="M1121.0,63.3 L1126.2,66.1" stroke="#1b1b1b" stroke-width="1.9" stroke-linecap="round"/>
<path d="M1122.6,66.9 L1127.8,69.7" stroke="#1b1b1b" stroke-width="1.9" stroke-linecap="round"/>
<path d="M1124.1,70.5 L1129.3,73.3" stroke="#1b1b1b" stroke-width="1.9" stroke-linecap="round"/>
<path d="M1125.7,74.1 L1130.8,76.9" stroke="#1b1b1b" stroke-width="1.9" stroke-linecap="round"/>
<path d="M1127.2,77.7 L1132.4,80.5" stroke="#1b1b1b" stroke-width="1.9" stroke-linecap="round"/>
<path d="M1128.8,81.3 L1133.9,84.1" stroke="#1b1b1b" stroke-width="1.9" stroke-linecap="round"/>
<path d="M1130.3,84.9 L1135.5,87.7" stroke="#1b1b1b" stroke-width="1.9" stroke-linecap="round"/>
<path d="M1131.1,66.7 L1135.9,69.3" stroke="#1b1b1b" stroke-width="1.9" stroke-linecap="round"/>
<path d="M1132.7,70.9 L1137.5,73.5" stroke="#1b1b1b" stroke-width="1.9" stroke-linecap="round"/>
<path d="M1134.3,75.1 L1139.1,77.7" stroke="#1b1b1b" stroke-width="1.9" stroke-linecap="round"/>
<path d="M1135.9,79.3 L1140.7,81.9" stroke="#1b1b1b" stroke-width="1.9" stroke-linecap="round"/>
<path d="M1137.5,83.5 L1142.3,86.1" stroke="#1b1b1b" stroke-width="1.9" stroke-linecap="round"/>
<path d="M1139.1,87.7 L1143.9,90.3" stroke="#1b1b1b" stroke-width="1.9" stroke-linecap="round"/>
<path d="M1144,113.5 L1144,116.5" stroke="#1c2424" stroke-width="1.25" fill="none" stroke-linecap="round" stroke-linejoin="round"/>
<path d="M1078.5,107.9 L1083.5,100.8 C1090,101 1095,107 1097,113 C1099,119 1100,128 1097,134.2 C1095.5,137 1093.5,139 1092,139.5 L1084,142.8 L1078,142 L1076.5,132 L1077,126.4 L1079.9,123.6 C1081,118 1080.5,112 1078.5,107.9 Z" fill="#fff" stroke="#1b1b1b" stroke-width="1.5" stroke-linejoin="round"/>
<path d="M1084.9,105.1 C1088,109 1091,116 1092.5,123.6 C1093,128 1092.5,132 1091.5,135" stroke="#1b1b1b" stroke-width="1.2" fill="none"/>
<path d="M1079,110 C1080.5,114 1081,118 1080,122" stroke="#1b1b1b" stroke-width="2" fill="none"/>
<path d="M1079.5,129.5 L1088.5,126.8 Q1091,129 1091,133 Q1090.5,138 1088.5,139 L1080.5,142.5" fill="#fff" stroke="#1b1b1b" stroke-width="1.3"/>
<ellipse cx="1078.2" cy="136.2" rx="3" ry="5.6" fill="#fff" stroke="#1b1b1b" stroke-width="1.4" transform="rotate(-22 1078.2 136.2)"/>
<path d="M1081,102.5 L1086,101.5 L1087,104 L1082,105.5 Z" fill="#1b1b1b"/>
<path d="M1066.4,103.5 L1079,103 M1066.6,106.8 L1078,106.5" stroke="#1b1b1b" stroke-width="1.5" fill="none"/>
<path d="M1067,94 L1071,92.5 L1073.5,98 L1075,101 L1071,102 L1068.5,97.5 Z" fill="#1b1b1b"/>
<path d="M1069,95.5 L1071,99" stroke="#ddd" stroke-width="0.8"/>
<path d="M1094.1,140 L1094.1,150" stroke="#1c2424" stroke-width="1.25" fill="none" stroke-linecap="round" stroke-linejoin="round"/>
<path d="M853.8,197.3 C857.8,196.3 865.0,193.5 869.3,194.2 C873.6,194.9 876.1,198.1 879.6,201.4 C883.1,204.7 886.9,209.2 890.0,213.8 C893.1,218.5 896.5,225.0 898.2,229.3 C899.9,233.6 899.9,235.5 900.3,239.6 C900.6,243.7 901.3,250.2 900.3,254.0 C899.2,257.8 896.4,260.2 894.0,262.3 C891.6,264.4 888.8,265.3 885.8,266.4 C882.8,267.5 880.3,269.7 876.0,269.0 C871.7,268.3 865.2,265.2 860.0,262.0 C854.8,258.8 849.2,255.3 845.0,250.0 C840.8,244.7 836.5,236.7 835.0,230.0 C833.5,223.3 834.3,215.0 836.0,210.0 C837.7,205.0 842.0,202.1 845.0,200.0 C848.0,197.9 849.8,198.3 853.8,197.3 Z" fill="#fff" stroke="#1b1b1b" stroke-width="1.3"/>
<circle cx="869.5" cy="194.3" r="0.9" fill="#1b1b1b"/><circle cx="891.5" cy="214" r="1" fill="#1b1b1b"/>
<path d="M889,239 L901,237 L901,255 Q897,261 890,262 Z" fill="#2a2a2a"/>
<path d="M889,240.0 L901,238.0" stroke="#fff" stroke-width="0.6"/>
<path d="M889,242.7 L901,240.5" stroke="#fff" stroke-width="0.6"/>
<path d="M889,245.4 L901,243.0" stroke="#fff" stroke-width="0.6"/>
<path d="M889,248.1 L901,245.5" stroke="#fff" stroke-width="0.6"/>
<path d="M889,250.8 L901,248.0" stroke="#fff" stroke-width="0.6"/>
<path d="M889,253.5 L901,250.5" stroke="#fff" stroke-width="0.6"/>
<path d="M889,256.2 L901,253.0" stroke="#fff" stroke-width="0.6"/>
<path d="M889,258.9 L901,255.5" stroke="#fff" stroke-width="0.6"/>
<ellipse cx="859.5" cy="237.5" rx="19.5" ry="36.5" fill="#fff" stroke="#1b1b1b" stroke-width="1.1" transform="rotate(-34 859.5 237.5)"/>
<path d="M845.0,205.5 C843.8,205.8 839.8,205.9 838.0,207.5 C836.2,209.1 835.1,211.7 834.5,215.0 C833.9,218.3 833.7,223.4 834.2,227.2 C834.7,230.9 835.6,233.7 837.3,237.5 C839.0,241.3 841.6,246.1 844.5,249.9 C847.4,253.7 851.0,257.3 854.8,260.2 C858.6,263.1 863.6,266.1 867.2,267.5 C870.8,268.9 874.2,268.9 876.5,268.5 C878.8,268.1 880.2,265.6 881.0,265.0" fill="none" stroke="#1b1b1b" stroke-width="2.1"/>
<path d="M853.8,211.7 C854.5,213.1 856.6,217.1 858.0,220.0 C859.4,222.9 859.8,225.7 862.0,229.3 C864.2,232.9 868.5,237.9 871.4,241.7 C874.3,245.5 878.0,248.6 879.6,252.0 C881.2,255.4 880.8,260.3 881.0,262.0" fill="none" stroke="#1b1b1b" stroke-width="1"/>
<path d="M853.5,205 Q862,207 868,213 L872.4,217 L870,220 L862,214 Q857,210 852,209 Z" fill="#fff" stroke="#1b1b1b" stroke-width="1.2"/>
<path d="M863,209 L870,214 L872,219 L866,221 L861,216 Z" fill="#fff" stroke="#1b1b1b" stroke-width="1.1"/>
<path d="M858,222 L866,224 L872,231 L868,235 L861,231 Z" fill="#222"/>
<path d="M860,226 L866,227" stroke="#fff" stroke-width="0.8"/>
<path d="M875.5,229 L884,227.2 L889,230 L888.5,240 L880,241.7 L876,238 Z" fill="#fff" stroke="#1b1b1b" stroke-width="1.2"/>
<path d="M884,227.5 L884,240.5 M876,233 L888,231" stroke="#1b1b1b" stroke-width="1"/>
<path d="M836,203 L839,198 L845,196 L851,197 L855,202 L851,206 L841,207 Z" fill="#fff" stroke="#1b1b1b" stroke-width="1.3"/>
<rect x="842" y="193.5" width="4.5" height="4.5" rx="1" fill="#fff" stroke="#1b1b1b" stroke-width="1.3"/>
<path d="M839,202 L852,201" stroke="#1b1b1b" stroke-width="1"/>
<path d="M845,259 Q847,256.5 851,258 L858,263 L857,267 L850,267.5 Q845,265 845,259 Z" fill="#fff" stroke="#1b1b1b" stroke-width="1.3"/>
<ellipse cx="850" cy="261.5" rx="2.2" ry="1.5" fill="#1b1b1b"/>
<path d="M877.5,265 L886,263 L893,272 Q903,280 903,285.5 L897,288.6 Q889,287 883,279 Z" fill="#fff" stroke="#1b1b1b" stroke-width="1.4"/>
<path d="M882,269 L890,266.5 M888,278 L899,281" stroke="#1b1b1b" stroke-width="1.1"/>
<ellipse cx="898" cy="284.5" rx="2.4" ry="1.5" fill="none" stroke="#1b1b1b" stroke-width="1.1"/>
<path d="M848.9,245.2 L864.6,238" stroke="#2a2f33" stroke-width="1.0" fill="none" stroke-linecap="round" stroke-linejoin="round"/>
<path d="M897,217.5 L916.4,205.5" stroke="#2a2f33" stroke-width="1.0" fill="none" stroke-linecap="round" stroke-linejoin="round"/>
<path d="M868.8,269.5 L868.8,278" stroke="#1c2424" stroke-width="1.25" fill="none" stroke-linecap="round" stroke-linejoin="round"/>
<path d="M1089,103 L1144,68.8" stroke="#2a2f33" stroke-width="1.0" fill="none" stroke-linecap="round" stroke-linejoin="round"/>
<path d="M790.6,212.4 L764.6,227.5" stroke="#1b1b1b" stroke-width="1.2" fill="none" stroke-linecap="round" stroke-linejoin="round"/>
<path d="M753.5,234 L730,246.5" stroke="#1b1b1b" stroke-width="1.2" fill="none" stroke-linecap="round" stroke-linejoin="round"/>
<path d="M717,254 L693,266.5" stroke="#1b1b1b" stroke-width="1.2" fill="none" stroke-linecap="round" stroke-linejoin="round"/>
<path d="M680,274 L658,285" stroke="#1b1b1b" stroke-width="1.2" fill="none" stroke-linecap="round" stroke-linejoin="round"/>
<path d="M643.5,293 L620,305.5" stroke="#1b1b1b" stroke-width="1.2" fill="none" stroke-linecap="round" stroke-linejoin="round"/>
<path d="M605,314 L585.5,328" stroke="#1b1b1b" stroke-width="1.2" fill="none" stroke-linecap="round" stroke-linejoin="round"/>
<path d="M790.6,212.4 L803,241.3" stroke="#1b1b1b" stroke-width="1.2" fill="none" stroke-linecap="round" stroke-linejoin="round"/>
<path d="M805.8,256.4 L816.8,279.8" stroke="#1b1b1b" stroke-width="1.2" fill="none" stroke-linecap="round" stroke-linejoin="round"/>
<path d="M822.3,290.9 L834.7,321.1" stroke="#1b1b1b" stroke-width="1.2" fill="none" stroke-linecap="round" stroke-linejoin="round"/>
<path d="M834.7,321.1 L808.5,336.3" stroke="#1b1b1b" stroke-width="1.2" fill="none" stroke-linecap="round" stroke-linejoin="round"/>
<path d="M797.5,344.5 L772.7,356.9" stroke="#1b1b1b" stroke-width="1.2" fill="none" stroke-linecap="round" stroke-linejoin="round"/>
<path d="M756.2,366.6 L734.2,379" stroke="#1b1b1b" stroke-width="1.2" fill="none" stroke-linecap="round" stroke-linejoin="round"/>
<path d="M723.2,384.5 L701.1,396.9" stroke="#1b1b1b" stroke-width="1.2" fill="none" stroke-linecap="round" stroke-linejoin="round"/>
<path d="M690.1,403.7 L665.4,417.5" stroke="#1b1b1b" stroke-width="1.2" fill="none" stroke-linecap="round" stroke-linejoin="round"/>
<path d="M651.6,425.8 L626.8,436.8" stroke="#1b1b1b" stroke-width="1.2" fill="none" stroke-linecap="round" stroke-linejoin="round"/>
<path d="M585.5,328 L596.5,354.2" stroke="#1b1b1b" stroke-width="1.2" fill="none" stroke-linecap="round" stroke-linejoin="round"/>
<path d="M602,365.2 L610.3,387.2" stroke="#1b1b1b" stroke-width="1.2" fill="none" stroke-linecap="round" stroke-linejoin="round"/>
<path d="M615.8,409.2 L626.8,436.8" stroke="#1b1b1b" stroke-width="1.2" fill="none" stroke-linecap="round" stroke-linejoin="round"/>
<path d="M730.3,271.3 L764.7,252.7 Q772,250 779.8,256.8 C790,263 800,278 805,295 C809,308 806,318 801.9,320 L771.6,336 L755,340 Z" fill="#fff" stroke="#1b1b1b" stroke-width="1.3"/>
<path d="M781,259 C792,268 800,282 803.5,298 C806,310 804,318 800,321" stroke="#1b1b1b" stroke-width="1.1" fill="none"/>
<path d="M784,261 C795,271 802,286 805,300" stroke="#1b1b1b" stroke-width="0.9" fill="none"/>
<path d="M724.8,275.4 Q732,272 741.3,276.8 C750,281 757,290 763,300 C769,311 772,320 771.6,326.4 Q770,337 760.6,338.8 L752.3,338.8 C740,334 729,322 723,307 C718,294 718,282 724.8,275.4 Z" fill="#fff" stroke="#1b1b1b" stroke-width="1.5"/>
<path d="M724,276 Q727,271 733,271.5 L743,273.5 C752,278 760,287 766,297 C772,308 775,320 773,330" stroke="#1b1b1b" stroke-width="1.1" fill="none"/>
<ellipse cx="742.7" cy="309.5" rx="16.5" ry="22.5" fill="#fff" stroke="#1b1b1b" stroke-width="1.3" transform="rotate(-22 742.7 309.5)"/>
<path d="M741,279 L746,277 M763,322 L768,320" stroke="#1b1b1b" stroke-width="1"/>
<path d="M781.2,259 Q786,253 796.4,252.7 L801,254.5" stroke="#1b1b1b" stroke-width="1.2" fill="none"/>
<rect x="799" y="252.5" width="5" height="6.5" fill="#fff" stroke="#1b1b1b" stroke-width="1.4" transform="rotate(-20 801.5 255.7)"/>
<path d="M712.4,326.4 L778.5,287.8" stroke="#2a2f33" stroke-width="1.0" fill="none" stroke-linecap="round" stroke-linejoin="round"/>
<path d="M801.9,274 L826,259.6" stroke="#2a2f33" stroke-width="1.0" fill="none" stroke-linecap="round" stroke-linejoin="round"/>
<path d="M630.4,345.3 L679.5,319.5 Q690,318 694.7,327.7 L703.5,354.1 L653,383.1 Z" fill="#fff" stroke="#1b1b1b" stroke-width="1.3"/>
<path d="M653,383.5 L652,367 L702,341 L703.5,354.5 Z" fill="#fff" stroke="#1b1b1b" stroke-width="1.3"/>
<path d="M655.9,359.2 L667.9,353.2 L668.9,371.2 L656.9,376.2 Z" fill="#fff" stroke="#1b1b1b" stroke-width="1.8"/>
<circle cx="661.9" cy="364.7" r="2.2" fill="none" stroke="#1b1b1b" stroke-width="1.3"/>
<circle cx="661.9" cy="364.7" r="0.8" fill="#1b1b1b"/>
<path d="M668.5,352.9 L680.5,346.9 L681.5,364.9 L669.5,369.9 Z" fill="#fff" stroke="#1b1b1b" stroke-width="1.8"/>
<circle cx="674.5" cy="358.4" r="2.2" fill="none" stroke="#1b1b1b" stroke-width="1.3"/>
<circle cx="674.5" cy="358.4" r="0.8" fill="#1b1b1b"/>
<path d="M681.1,345.4 L693.1,339.4 L694.1,357.4 L682.1,362.4 Z" fill="#fff" stroke="#1b1b1b" stroke-width="1.8"/>
<circle cx="687.1" cy="350.9" r="2.2" fill="none" stroke="#1b1b1b" stroke-width="1.3"/>
<circle cx="687.1" cy="350.9" r="0.8" fill="#1b1b1b"/>
<path d="M655,384 L704,357" stroke="#1b1b1b" stroke-width="1.1"/>
<ellipse cx="706" cy="328.9" rx="7" ry="9" fill="#fff" stroke="#1b1b1b" stroke-width="1.6" transform="rotate(-25 706 328.9)"/>
<ellipse cx="703.5" cy="330" rx="5" ry="7.5" fill="none" stroke="#1b1b1b" stroke-width="2.6" transform="rotate(-25 703.5 330)"/>
<ellipse cx="701" cy="331" rx="3.5" ry="6" fill="none" stroke="#1b1b1b" stroke-width="1.4" transform="rotate(-25 701 331)"/>
<rect x="679.9" y="315.2" width="3.2" height="2.8" fill="#fff" stroke="#1b1b1b" stroke-width="1.1" transform="rotate(10 681.5 318.2)"/>
<rect x="684.1999999999999" y="315.6" width="3.2" height="2.8" fill="#fff" stroke="#1b1b1b" stroke-width="1.1" transform="rotate(25 685.8 318.6)"/>
<rect x="688.0" y="317.2" width="3.2" height="2.8" fill="#fff" stroke="#1b1b1b" stroke-width="1.1" transform="rotate(40 689.6 320.2)"/>
<rect x="690.9" y="320" width="3.2" height="2.8" fill="#fff" stroke="#1b1b1b" stroke-width="1.1" transform="rotate(55 692.5 323)"/>
<rect x="692.6999999999999" y="323.4" width="3.2" height="2.8" fill="#fff" stroke="#1b1b1b" stroke-width="1.1" transform="rotate(70 694.3 326.4)"/>
<path d="M694,325 L699,322 M694.7,329 L700,326" stroke="#1b1b1b" stroke-width="1.4"/>
<path d="M612.0,343.5 C613.5,343.4 618.0,342.6 621.0,343.0 C624.0,343.4 627.2,344.6 630.0,346.0 C632.8,347.4 635.8,349.5 638.0,351.5 C640.2,353.5 642.0,355.6 643.5,358.0 C645.0,360.4 646.0,363.2 647.0,366.0 C648.0,368.8 648.8,371.8 649.5,375.0 C650.2,378.2 650.8,381.9 651.0,385.0 C651.2,388.1 651.5,391.1 651.0,393.5 C650.5,395.9 648.5,398.5 648.0,399.5" stroke="#1b1b1b" stroke-width="6.2" fill="none" stroke-linecap="round"/>
<path d="M612.0,343.5 C613.5,343.4 618.0,342.6 621.0,343.0 C624.0,343.4 627.2,344.6 630.0,346.0 C632.8,347.4 635.8,349.5 638.0,351.5 C640.2,353.5 642.0,355.6 643.5,358.0 C645.0,360.4 646.0,363.2 647.0,366.0 C648.0,368.8 648.8,371.8 649.5,375.0 C650.2,378.2 650.8,381.9 651.0,385.0 C651.2,388.1 651.5,391.1 651.0,393.5 C650.5,395.9 648.5,398.5 648.0,399.5" stroke="#fff" stroke-width="3.6" fill="none" stroke-dasharray="2.6 1.9" stroke-linecap="butt"/>
<ellipse cx="625" cy="374.5" rx="21" ry="31.5" fill="#fff" stroke="#1b1b1b" stroke-width="1.6" transform="rotate(-27 625 374.5)"/>
<ellipse cx="626.5" cy="375" rx="15.5" ry="24" fill="none" stroke="#1b1b1b" stroke-width="1.1" transform="rotate(-30 626.5 375)"/>
<ellipse cx="627" cy="375" rx="12.5" ry="19.5" fill="none" stroke="#1b1b1b" stroke-width="1" transform="rotate(-30 627 375)"/>
<ellipse cx="627" cy="373.5" rx="5.2" ry="7.5" fill="none" stroke="#1b1b1b" stroke-width="1.8" transform="rotate(-30 627 373.5)"/>
<ellipse cx="627.5" cy="373" rx="2.3" ry="3.4" fill="#555" transform="rotate(-30 627.5 373)"/>
<path d="M619,383 L646,370" stroke="#2a2f33" stroke-width="1.0" fill="none" stroke-linecap="round" stroke-linejoin="round"/>
<path d="M713.6,326.4 L722,321.5" stroke="#2a2f33" stroke-width="1.0" fill="none" stroke-linecap="round" stroke-linejoin="round"/>
<path d="M662.6,296 L671,287 L675,289 L674,294 L681.9,297.5 L680,301.9 L672,298.5 L667,301 Z" fill="#fff" stroke="#1b1b1b" stroke-width="1.3"/>
<path d="M671,287 L672,298.5" stroke="#1b1b1b" stroke-width="1"/>
<path d="M689.5,284.8 L693.5,282.6" stroke="#1b1b1b" stroke-width="2.2" stroke-linecap="round"/>
<circle cx="693.5" cy="282.6" r="1.7" fill="#1b1b1b"/>
<path d="M693.5,284.1 L693.5,287.1" stroke="#1c2424" stroke-width="1.25" fill="none" stroke-linecap="round" stroke-linejoin="round"/>
<path d="M733.5,342.59999999999997 L737.5,340.4" stroke="#1b1b1b" stroke-width="2.2" stroke-linecap="round"/>
<circle cx="737.5" cy="340.4" r="1.7" fill="#1b1b1b"/>
<path d="M737.5,341.9 L737.5,344.9" stroke="#1c2424" stroke-width="1.25" fill="none" stroke-linecap="round" stroke-linejoin="round"/>
<path d="M737.5,361.9 L741.5,359.7" stroke="#1b1b1b" stroke-width="2.2" stroke-linecap="round"/>
<circle cx="741.5" cy="359.7" r="1.7" fill="#1b1b1b"/>
<path d="M741.5,361.2 L741.5,364.2" stroke="#1c2424" stroke-width="1.25" fill="none" stroke-linecap="round" stroke-linejoin="round"/>
<path d="M707.5,342.5 L713.5,338 L736,372.5 L730,377 Z" fill="#1b1b1b"/>
<circle cx="709.8" cy="343.2" r="0.75" fill="#ccc"/>
<circle cx="712.2" cy="341.6" r="0.65" fill="#999"/>
<circle cx="712.5" cy="347.3" r="0.75" fill="#ccc"/>
<circle cx="714.9" cy="345.7" r="0.65" fill="#999"/>
<circle cx="715.3" cy="351.4" r="0.75" fill="#ccc"/>
<circle cx="717.7" cy="349.8" r="0.65" fill="#999"/>
<circle cx="718.0" cy="355.5" r="0.75" fill="#ccc"/>
<circle cx="720.4" cy="353.9" r="0.65" fill="#999"/>
<circle cx="720.8" cy="359.6" r="0.75" fill="#ccc"/>
<circle cx="723.2" cy="358.0" r="0.65" fill="#999"/>
<circle cx="723.5" cy="363.7" r="0.75" fill="#ccc"/>
<circle cx="725.9" cy="362.1" r="0.65" fill="#999"/>
<circle cx="726.3" cy="367.8" r="0.75" fill="#ccc"/>
<circle cx="728.7" cy="366.2" r="0.65" fill="#999"/>
<circle cx="729.0" cy="371.9" r="0.75" fill="#ccc"/>
<circle cx="731.4" cy="370.3" r="0.65" fill="#999"/>
<circle cx="731.8" cy="376.0" r="0.75" fill="#ccc"/>
<circle cx="734.2" cy="374.4" r="0.65" fill="#999"/>
<path d="M714.5,339.5 L737,373.5" stroke="#1b1b1b" stroke-width="1.3"/>
<path d="M758.4,364 L758.4,369" stroke="#1c2424" stroke-width="1.25" fill="none" stroke-linecap="round" stroke-linejoin="round"/>
<path d="M903.6,282.2 L914.9,287.4" stroke="#1b1b1b" stroke-width="1.2" fill="none" stroke-dasharray="3 2.5" stroke-dashoffset="0"/>
<path d="M914.9,287.4 L914.9,311" stroke="#1b1b1b" stroke-width="1.4" fill="none" stroke-dasharray="4 2.5" stroke-dashoffset="0"/>
<path d="M911.5,314.8 Q912,311 915.4,311 Q918.8,311 919.3,314.8 Z" fill="#151515"/>
<rect x="911" y="314" width="8.6" height="2.6" rx="1" fill="#151515"/>
<rect x="913.4" y="316.3" width="4" height="6" fill="#fff" stroke="#151515" stroke-width="1.2"/>
<path d="M913.6,322 L915.4,324.5 L917.2,322 Z" fill="#151515"/>
<path d="M906.5,314.5 L911,314.5" stroke="#1c2424" stroke-width="1.25" fill="none" stroke-linecap="round" stroke-linejoin="round"/>
<path d="M914.9,325.5 L914.9,331" stroke="#1b1b1b" stroke-width="1.4" fill="none" stroke-dasharray="2.5 2" stroke-dashoffset="0"/>
<ellipse cx="915" cy="333.3" rx="4.8" ry="2.2" fill="#fff" stroke="#151515" stroke-width="1.4"/>
<ellipse cx="915" cy="333.3" rx="1.5" ry="0.8" fill="#151515"/>
<path d="M904.5,334.3 L910,334" stroke="#1c2424" stroke-width="1.25" fill="none" stroke-linecap="round" stroke-linejoin="round"/>
<path d="M919.8,333.3 C928,333 935,331 937.5,323 C939.5,315 938.5,307 941.5,302 C945,297 950,295 958.5,294.5" stroke="#151515" stroke-width="1.7" fill="none"/>
<ellipse cx="962.2" cy="294" rx="4.4" ry="2.4" fill="#fff" stroke="#151515" stroke-width="1.5"/>
<ellipse cx="962.6" cy="294" rx="1.6" ry="0.9" fill="none" stroke="#151515" stroke-width="0.9"/>
<path d="M914.9,336 L914.9,343" stroke="#1b1b1b" stroke-width="1.4" fill="none" stroke-dasharray="2.5 2" stroke-dashoffset="0"/>
<ellipse cx="915.4" cy="345.7" rx="5.2" ry="1.9" fill="#151515"/>
<ellipse cx="915.4" cy="345.3" rx="1.5" ry="0.6" fill="#888"/>
<path d="M905.5,345.7 L910,345.7" stroke="#1c2424" stroke-width="1.25" fill="none" stroke-linecap="round" stroke-linejoin="round"/>
<path d="M915.4,347.5 L915.4,354" stroke="#2a2f33" stroke-width="1.2" fill="none" stroke-linecap="round" stroke-linejoin="round"/>
<rect x="912" y="354" width="7" height="5" rx="1.2" fill="#151515"/>
<path d="M906.5,356.3 L912,356.3" stroke="#1c2424" stroke-width="1.25" fill="none" stroke-linecap="round" stroke-linejoin="round"/>
<path d="M1081.9,309.5 Q1082.1000000000001,305.8 1085.4,305.6 Q1088.7,305.8 1088.9,309.5 Z" fill="#151515"/>
<rect x="1083.7" y="309.2" width="3.4" height="5.5" fill="#fff" stroke="#151515" stroke-width="1.1"/>
<path d="M1088.9,308 L1095.0,308" stroke="#1c2424" stroke-width="1.25" fill="none" stroke-linecap="round" stroke-linejoin="round"/>
<path d="M1038,415.5 L1043,418.5" stroke="#151515" stroke-width="2.4" stroke-linecap="round"/>
<path d="M1039,416.1 L1041.8,417.8" stroke="#fff" stroke-width="0.8"/>
<circle cx="1043" cy="418.5" r="2.2" fill="#151515"/>
<path d="M1043,420.5 L1043,423.5" stroke="#1c2424" stroke-width="1.25" fill="none" stroke-linecap="round" stroke-linejoin="round"/>
<path d="M984,436 L989,439" stroke="#151515" stroke-width="2.4" stroke-linecap="round"/>
<path d="M985,436.6 L987.8,438.3" stroke="#fff" stroke-width="0.8"/>
<circle cx="989" cy="439" r="2.2" fill="#151515"/>
<path d="M989,441 L989,444" stroke="#1c2424" stroke-width="1.25" fill="none" stroke-linecap="round" stroke-linejoin="round"/>
<path d="M1031,359.5 1035,357.5 1041,356 1047,352 1053,347.5 1061,345 1072,342.5 1081,340.8 1085,339" stroke="#151515" stroke-width="2.6" fill="none" stroke-linecap="round"/>
<path d="M1031,359.5 1035,357.5 1041,356 1047,352 1053,347.5 1061,345 1072,342.5 1081,340.8 1085,339" stroke="#fff" stroke-width="0.9" fill="none" stroke-linecap="round"/>
<g transform="rotate(-20 1027 361.6)"><rect x="1022.5" y="358.6" width="9" height="6" rx="0.8" fill="#fff" stroke="#151515" stroke-width="1.5"/><rect x="1024.5" y="360.1" width="4" height="3" fill="#151515"/></g>
<g transform="rotate(-20 1089.5 337.4)"><rect x="1085.0" y="334.4" width="9" height="6" rx="0.8" fill="#fff" stroke="#151515" stroke-width="1.5"/><rect x="1087.0" y="335.9" width="4" height="3" fill="#151515"/></g>
<path d="M1048,356 L1048,357.5" stroke="#1c2424" stroke-width="1.25" fill="none" stroke-linecap="round" stroke-linejoin="round"/>
<path d="M877,410.5 882,408.7 890,405 898,400 904.3,397.7 915,395.5 926.4,393.6 932,390" stroke="#151515" stroke-width="2.6" fill="none" stroke-linecap="round"/>
<path d="M877,410.5 882,408.7 890,405 898,400 904.3,397.7 915,395.5 926.4,393.6 932,390" stroke="#fff" stroke-width="0.9" fill="none" stroke-linecap="round"/>
<g transform="rotate(-20 873.1 411.8)"><rect x="868.6" y="408.8" width="9" height="6" rx="0.8" fill="#fff" stroke="#151515" stroke-width="1.5"/><rect x="870.6" y="410.3" width="4" height="3" fill="#151515"/></g>
<g transform="rotate(-20 936.5 388.6)"><rect x="932.0" y="385.6" width="9" height="6" rx="0.8" fill="#fff" stroke="#151515" stroke-width="1.5"/><rect x="934.0" y="387.1" width="4" height="3" fill="#151515"/></g>
<g transform="rotate(-25.6 990.8 404.7)"><rect x="964.5" y="402.4" width="52.5" height="4.6" fill="#fff" stroke="#151515" stroke-width="1.4"/><rect x="967" y="403.8" width="3" height="1.8" fill="#151515"/><rect x="1011.5" y="403.8" width="3" height="1.8" fill="#151515"/></g>
<path d="M898,440.5 L898.8,475.8 L917.3,483.1 L955.8,471 L955,434.1 L916,444.5 Z" fill="#fff" stroke="#151515" stroke-width="1.4" stroke-linejoin="round"/>
<path d="M916,444.5 L917.3,483.1" stroke="#151515" stroke-width="1.6"/>
<path d="M898,434.5 L935.8,422.8 L947.8,426.9 L955,434.1 L916,444.5 L898,440.5 Z" fill="#fff" stroke="#151515" stroke-width="1.4" stroke-linejoin="round"/>
<path d="M900,435.5 L915.5,439.5 L954,429.5 M915.5,439.5 L916,444.5" stroke="#151515" stroke-width="1.1" fill="none"/>
<path d="M920,436 L944,429.5 L946,433 L922,439.5 Z" fill="#151515"/>
<path d="M924,436.5 L942,431.5" stroke="#aaa" stroke-width="0.8" stroke-dasharray="2 1"/>
<path d="M940.6,476 L940.6,479.5" stroke="#1c2424" stroke-width="1.25" fill="none" stroke-linecap="round" stroke-linejoin="round"/>
<path d="M1001.6,484 L989,534 L986.5,536.5" stroke="#151515" stroke-width="2.8" fill="none" stroke-linecap="round" stroke-linejoin="round"/>
<path d="M1001.2,486 L989,534" stroke="#fff" stroke-width="1" fill="none"/>
<path d="M1001.6,484 L999.8,491" stroke="#151515" stroke-width="3.2" stroke-linecap="round"/>
<path d="M992,506.3 L995.5,506.3" stroke="#1c2424" stroke-width="1.25" fill="none" stroke-linecap="round" stroke-linejoin="round"/>
<path d="M1041,465.5 L1030,514.5" stroke="#151515" stroke-width="2.8" fill="none" stroke-linecap="round"/>
<path d="M1040.2,469 L1030.5,512" stroke="#fff" stroke-width="1" fill="none"/>
<path d="M1041,465.5 L1039.3,472.5" stroke="#151515" stroke-width="3.2" stroke-linecap="round"/>
<path d="M1027,514.5 L1033,514.5" stroke="#2a2f33" stroke-width="1.3" fill="none" stroke-linecap="round" stroke-linejoin="round"/>
<path d="M1036.5,495.2 L1040.5,495.2" stroke="#1c2424" stroke-width="1.25" fill="none" stroke-linecap="round" stroke-linejoin="round"/>
<rect x="999" y="467" width="7" height="5" rx="1.5" fill="#151515"/>
<path d="M994.5,469 L999,469" stroke="#1c2424" stroke-width="1.25" fill="none" stroke-linecap="round" stroke-linejoin="round"/>
<rect x="1038.3" y="453.3" width="7" height="5" rx="1.5" fill="#151515"/>
<path d="M1045.3,455.8 L1050.5,455.8" stroke="#1c2424" stroke-width="1.25" fill="none" stroke-linecap="round" stroke-linejoin="round"/>
<path d="M165.5,522.6 L267.8,560.5 L268.5,572.4 L166.2,534.6 Z" fill="#fff" stroke="#151515" stroke-width="1.4" stroke-linejoin="round"/>
<path d="M165.5,522.6 L168.8,519.3 L269.8,557.2 L267.8,560.5" fill="none" stroke="#151515" stroke-width="1.3" stroke-linejoin="round"/>
<path d="M167.5,521 L268.8,558.8" stroke="#151515" stroke-width="0.9"/>
<path d="M168.8,519.3 L173,518.5 L185.5,518 L186,523.5 L181,524.5" fill="#fff" stroke="#151515" stroke-width="1.2"/>
<ellipse cx="181" cy="520.5" rx="2" ry="1.3" fill="none" stroke="#151515" stroke-width="1"/>
<path d="M268.5,572.4 L272,568 L272.5,557 L277.5,555 L277,559 L273,572" fill="#fff" stroke="#151515" stroke-width="1.2"/>
<path d="M269.8,557.2 L273,554.5 L277.5,555" fill="none" stroke="#151515" stroke-width="1.2"/>
<circle cx="168.8" cy="530" r="1.3" fill="none" stroke="#151515" stroke-width="1"/>
<circle cx="264.5" cy="565.8" r="1.3" fill="none" stroke="#151515" stroke-width="1"/>
<path d="M271,572.5 L271,577" stroke="#1c2424" stroke-width="1.25" fill="none" stroke-linecap="round" stroke-linejoin="round"/>
<path d="M138.3,557.2 L147.0,550.4" stroke="#1b1b1b" stroke-width="3.6" stroke-linecap="round"/>
<path d="M139.5,556.3 L147.0,550.4" stroke="#fff" stroke-width="1.8" stroke-linecap="round"/>
<circle cx="138.3" cy="557.2" r="2.4" fill="#1b1b1b"/>
<circle cx="138.3" cy="557.2" r="0.96" fill="#666"/>
<path d="M138.3,559.6 L138.3,564.2" stroke="#1c2424" stroke-width="1.25" fill="none" stroke-linecap="round" stroke-linejoin="round"/>
<path d="M238.6,591.7 L247.3,584.9" stroke="#1b1b1b" stroke-width="3.6" stroke-linecap="round"/>
<path d="M239.8,590.8 L247.3,584.9" stroke="#fff" stroke-width="1.8" stroke-linecap="round"/>
<circle cx="238.6" cy="591.7" r="2.4" fill="#1b1b1b"/>
<circle cx="238.6" cy="591.7" r="0.96" fill="#666"/>
<path d="M238.6,594.1 L238.6,598.7" stroke="#1c2424" stroke-width="1.25" fill="none" stroke-linecap="round" stroke-linejoin="round"/>
<ellipse cx="154.2" cy="543.9" rx="1.6" ry="2.4" fill="#151515"/>
<path d="M154.7,546.3 L154.7,549.4" stroke="#1c2424" stroke-width="1.25" fill="none" stroke-linecap="round" stroke-linejoin="round"/>
<ellipse cx="257.2" cy="577.8" rx="1.6" ry="2.4" fill="#151515"/>
<path d="M257.7,580.1999999999999 L257.7,583.3" stroke="#1c2424" stroke-width="1.25" fill="none" stroke-linecap="round" stroke-linejoin="round"/>
<path d="M245.9,608.3 L269.8,593.7" stroke="#2a2f33" stroke-width="1.1" fill="none" stroke-linecap="round" stroke-linejoin="round"/>
<path d="M300.7,617.5 Q306.7,605.5 316.7,606.5 Q324.7,607.5 326.7,615.5 L323.7,617.5 Q318.7,611.5 312.7,612.5 Q307.7,613.5 305.7,619.5 Z" fill="#fff" stroke="#151515" stroke-width="1.6" stroke-linejoin="round"/>
<path d="M303.7,614.5 Q308.7,608.5 315.7,609.5 Q321.7,610.5 323.7,615.5" stroke="#151515" stroke-width="1.2" fill="none"/>
<path d="M305.7,619.5 Q308.7,613.5 312.7,614.5 L312.7,619.5 Z" fill="#151515"/>
<path d="M312.3,619.5 L312.3,623.5" stroke="#1c2424" stroke-width="1.25" fill="none" stroke-linecap="round" stroke-linejoin="round"/>
<path d="M329.5,654.5 Q334.2,645.1 342.0,645.9 Q348.2,646.7 349.8,652.9 L347.4,654.5 Q343.5,649.8 338.9,650.6 Q335.0,651.4 333.4,656.1 Z" fill="#fff" stroke="#151515" stroke-width="1.6" stroke-linejoin="round"/>
<path d="M331.8,652.2 Q335.7,647.5 341.2,648.3 Q345.9,649.0 347.4,652.9" stroke="#151515" stroke-width="1.2" fill="none"/>
<path d="M333.4,656.1 Q335.7,651.4 338.9,652.2 L338.9,656.1 Z" fill="#151515"/>
<path d="M339.2,656.5 L339.2,660.5" stroke="#1c2424" stroke-width="1.25" fill="none" stroke-linecap="round" stroke-linejoin="round"/>
<path d="M236.9,662.6 L253.3,657 L256.5,658.8 L257.8,669.6 L262.8,670.2 L264.1,686.6 L257.1,691 L238.8,695.4 L236.9,692.9 Z" fill="#fff" stroke="#151515" stroke-width="2.2" stroke-linejoin="round"/>
<path d="M237.5,663 L254,657.5 L255,662.5 L238.5,667.5 Z" fill="#fff" stroke="#151515" stroke-width="1.5"/>
<path d="M240,665.5 L254,661" stroke="#151515" stroke-width="0.9"/>
<path d="M240.5,667.5 L242.5,695 M242.5,667 L244.5,694.5" stroke="#151515" stroke-width="1.3"/>
<path d="M237.5,683 L264,675.5 L264.2,680.5 L238,688.5 Z" fill="#222"/>
<path d="M240,683.5 L241,687.0" stroke="#bbb" stroke-width="0.6"/>
<path d="M243,682.7 L244,686.1" stroke="#bbb" stroke-width="0.6"/>
<path d="M246,681.9 L247,685.2" stroke="#bbb" stroke-width="0.6"/>
<path d="M249,681.1 L250,684.3" stroke="#bbb" stroke-width="0.6"/>
<path d="M252,680.3 L253,683.4" stroke="#bbb" stroke-width="0.6"/>
<path d="M255,679.5 L256,682.5" stroke="#bbb" stroke-width="0.6"/>
<path d="M258,678.7 L259,681.6" stroke="#bbb" stroke-width="0.6"/>
<path d="M261,677.9 L262,680.7" stroke="#bbb" stroke-width="0.6"/>
<path d="M238,688.5 L263,681" stroke="#151515" stroke-width="1.2"/>
<ellipse cx="248.5" cy="689" rx="2.2" ry="1.6" fill="#151515"/>
<path d="M257.7,691 L257.7,695" stroke="#1c2424" stroke-width="1.25" fill="none" stroke-linecap="round" stroke-linejoin="round"/>
<path d="M274.5,688.5 L281.5,687.8" stroke="#151515" stroke-width="2.6" stroke-linecap="round"/>
<path d="M275.5,688.5 L280,688" stroke="#fff" stroke-width="0.8"/>
<path d="M280,690 L280,695" stroke="#1c2424" stroke-width="1.25" fill="none" stroke-linecap="round" stroke-linejoin="round"/>
<path d="M119.9,754 L124.5,752.5 L130.6,763.2 L156.6,770.9 L160.4,775.5 L157.5,777 L162.5,787 L170.4,785.4 L175,792.3 L163,795 L153.5,780.8 L129.1,774 L119.9,764.8 Z" fill="#fff" stroke="#151515" stroke-width="1.5" stroke-linejoin="round"/>
<path d="M124.5,752.5 L128,765 L129.1,774 M130.6,763.2 L131,770 M157.5,777 L154.5,781" stroke="#151515" stroke-width="1.2" fill="none"/>
<path d="M131.5,764.5 L156,771.5" stroke="#151515" stroke-width="1.6"/>
<ellipse cx="168.8" cy="790.3" rx="2.6" ry="1.7" fill="none" stroke="#151515" stroke-width="1.3"/>
<path d="M121,756 L125.5,766 M122,761 L124,762" stroke="#151515" stroke-width="1.2"/>
<circle cx="134.4" cy="754.8" r="2.4" fill="#151515"/>
<path d="M168.8,795 L168.8,800" stroke="#1c2424" stroke-width="1.25" fill="none" stroke-linecap="round" stroke-linejoin="round"/>
<path d="M239.2,738.8 L255.3,734.2 C258,740 259.5,748 258.3,755 C257,764 253,771 246.9,774 L234.6,777.8 Q231,778.5 227,778.5 L202.5,769.4 L215.5,764 L237.7,772.4 C240.5,767 241,760 240.7,752 C240.5,746 240,742 239.2,738.8 Z" fill="#fff" stroke="#151515" stroke-width="1.3" stroke-linejoin="round"/>
<path d="M237.7,772.4 Q236,777 234.6,777.8" stroke="#151515" stroke-width="1.1" fill="none"/>
<circle cx="248.4" cy="740.5" r="1.1" fill="none" stroke="#151515" stroke-width="0.9"/>
<path d="M234.6,778 L234.6,783" stroke="#1c2424" stroke-width="1.25" fill="none" stroke-linecap="round" stroke-linejoin="round"/>
<path d="M268.5,753.5 L272.9,756.4" stroke="#151515" stroke-width="2.4" stroke-linecap="round"/>
<circle cx="273" cy="756.6" r="2.2" fill="#151515"/>
<path d="M273.5,758.5 L273.5,763" stroke="#1c2424" stroke-width="1.25" fill="none" stroke-linecap="round" stroke-linejoin="round"/>
<path d="M349.7,554.7 L350,551.7 L351.8,550.1 L354.2,550.1 L356,551.7 L356.3,554.7 Z" fill="#151515"/>
<path d="M351.8,552.0 L354.2,552.0" stroke="#888" stroke-width="0.7"/>
<rect x="348.8" y="554.3" width="8.4" height="2" rx="0.8" fill="#151515"/>
<rect x="351.4" y="556.1" width="3.2" height="6.8" rx="0.8" fill="#fff" stroke="#151515" stroke-width="1.2"/>
<path d="M357.2,555.5 L359.5,555.5" stroke="#1c2424" stroke-width="1.25" fill="none" stroke-linecap="round" stroke-linejoin="round"/>
<path d="M345.5,574.5 L347.0,583.5 Q352.3,586.5 357.6,583.5 L359.1,574.5 Z" fill="#fff" stroke="#151515" stroke-width="1.3"/>
<ellipse cx="352.3" cy="574.5" rx="6.8" ry="2.4" fill="#fff" stroke="#151515" stroke-width="1.3"/>
<ellipse cx="352.3" cy="574.5" rx="2" ry="0.8" fill="#151515"/>
<path d="M359.1,577.5 L363.3,577.5" stroke="#1c2424" stroke-width="1.25" fill="none" stroke-linecap="round" stroke-linejoin="round"/>
<path d="M418.5,585.7 L418.8,582.7 L420.6,581.1 L423.0,581.1 L424.8,582.7 L425.1,585.7 Z" fill="#151515"/>
<path d="M420.6,583.0 L423.0,583.0" stroke="#888" stroke-width="0.7"/>
<rect x="417.6" y="585.3" width="8.4" height="2" rx="0.8" fill="#151515"/>
<rect x="420.2" y="587.1" width="3.2" height="6.8" rx="0.8" fill="#fff" stroke="#151515" stroke-width="1.2"/>
<path d="M426.0,586.5 L428.3,586.5" stroke="#1c2424" stroke-width="1.25" fill="none" stroke-linecap="round" stroke-linejoin="round"/>
<path d="M414.3,603.8 L415.8,612.8 Q421.1,615.8 426.40000000000003,612.8 L427.90000000000003,603.8 Z" fill="#fff" stroke="#151515" stroke-width="1.3"/>
<ellipse cx="421.1" cy="603.8" rx="6.8" ry="2.4" fill="#fff" stroke="#151515" stroke-width="1.3"/>
<ellipse cx="421.1" cy="603.8" rx="2" ry="0.8" fill="#151515"/>
<path d="M427.90000000000003,606.8 L432.1,606.8" stroke="#1c2424" stroke-width="1.25" fill="none" stroke-linecap="round" stroke-linejoin="round"/>
<path d="M439.09999999999997,508.2 L439.4,505.2 L441.2,503.6 L443.59999999999997,503.6 L445.4,505.2 L445.7,508.2 Z" fill="#151515"/>
<path d="M441.2,505.5 L443.59999999999997,505.5" stroke="#888" stroke-width="0.7"/>
<rect x="438.2" y="507.8" width="8.4" height="2" rx="0.8" fill="#151515"/>
<rect x="440.79999999999995" y="509.6" width="3.2" height="6.8" rx="0.8" fill="#fff" stroke="#151515" stroke-width="1.2"/>
<path d="M446.59999999999997,509 L448.9,509" stroke="#1c2424" stroke-width="1.25" fill="none" stroke-linecap="round" stroke-linejoin="round"/>
<path d="M436.7,526.3 L438.2,535.3 Q443.5,538.3 448.8,535.3 L450.3,526.3 Z" fill="#fff" stroke="#151515" stroke-width="1.3"/>
<ellipse cx="443.5" cy="526.3" rx="6.8" ry="2.4" fill="#fff" stroke="#151515" stroke-width="1.3"/>
<ellipse cx="443.5" cy="526.3" rx="2" ry="0.8" fill="#151515"/>
<path d="M450.3,529.3 L454.5,529.3" stroke="#1c2424" stroke-width="1.25" fill="none" stroke-linecap="round" stroke-linejoin="round"/>
<path d="M541.7,535.7 L542,532.7 L543.8,531.1 L546.2,531.1 L548,532.7 L548.3,535.7 Z" fill="#151515"/>
<path d="M543.8,533.0 L546.2,533.0" stroke="#888" stroke-width="0.7"/>
<rect x="540.8" y="535.3" width="8.4" height="2" rx="0.8" fill="#151515"/>
<rect x="543.4" y="537.1" width="3.2" height="6.8" rx="0.8" fill="#fff" stroke="#151515" stroke-width="1.2"/>
<path d="M549.2,536.5 L551.5,536.5" stroke="#1c2424" stroke-width="1.25" fill="none" stroke-linecap="round" stroke-linejoin="round"/>
<path d="M539.2,555 L540.7,564 Q546,567 551.3,564 L552.8,555 Z" fill="#fff" stroke="#151515" stroke-width="1.3"/>
<ellipse cx="546" cy="555" rx="6.8" ry="2.4" fill="#fff" stroke="#151515" stroke-width="1.3"/>
<ellipse cx="546" cy="555" rx="2" ry="0.8" fill="#151515"/>
<path d="M552.8,558 L557,558" stroke="#1c2424" stroke-width="1.25" fill="none" stroke-linecap="round" stroke-linejoin="round"/>
<ellipse cx="519.2" cy="454.2" rx="3.3" ry="2.2" fill="#151515"/>
<path d="M522.5,454.5 L528,454.5" stroke="#1c2424" stroke-width="1.25" fill="none" stroke-linecap="round" stroke-linejoin="round"/>
<path d="M513.5,466 L514,474 Q520.5,477 527.2,474 L527.5,466 Z" fill="#fff" stroke="#151515" stroke-width="1.3"/>
<ellipse cx="520.5" cy="466" rx="7" ry="2.6" fill="#fff" stroke="#151515" stroke-width="1.3"/>
<path d="M527.5,470.5 L532,470.5" stroke="#1c2424" stroke-width="1.25" fill="none" stroke-linecap="round" stroke-linejoin="round"/>
<rect x="518.8" y="475.5" width="3.4" height="7.5" fill="#151515"/>
<ellipse cx="520" cy="490.5" rx="3.3" ry="2.2" fill="#151515"/>
<path d="M523.5,490.8 L528,490.8" stroke="#1c2424" stroke-width="1.25" fill="none" stroke-linecap="round" stroke-linejoin="round"/>
<path d="M518.3,538 L518.3,545" stroke="#1c2424" stroke-width="1.25" fill="none" stroke-linecap="round" stroke-linejoin="round"/>
<circle cx="516.4" cy="563" r="3.2" fill="#151515"/>
<path d="M509.9,563 L513.8,563" stroke="#1c2424" stroke-width="1.25" fill="none" stroke-linecap="round" stroke-linejoin="round"/>
<circle cx="517.1" cy="589.5" r="3.2" fill="#151515"/>
<path d="M510.6,589.5 L514.5,589.5" stroke="#1c2424" stroke-width="1.25" fill="none" stroke-linecap="round" stroke-linejoin="round"/>
<circle cx="520.2" cy="622.2" r="3.2" fill="#151515"/>
<path d="M513.7,622.2 L517.6,622.2" stroke="#1c2424" stroke-width="1.25" fill="none" stroke-linecap="round" stroke-linejoin="round"/>
<circle cx="628.5" cy="516.5" r="3.2" fill="#151515"/>
<path d="M631.1,516.5 L635.0,516.5" stroke="#1c2424" stroke-width="1.25" fill="none" stroke-linecap="round" stroke-linejoin="round"/>
<circle cx="630" cy="542.5" r="3.2" fill="#151515"/>
<path d="M632.6,542.5 L636.5,542.5" stroke="#1c2424" stroke-width="1.25" fill="none" stroke-linecap="round" stroke-linejoin="round"/>
<circle cx="634.5" cy="569.5" r="3.2" fill="#151515"/>
<path d="M637.1,569.5 L641.0,569.5" stroke="#1c2424" stroke-width="1.25" fill="none" stroke-linecap="round" stroke-linejoin="round"/>
<path d="M372.8,696.5 Q377.3,693.3 383.90000000000003,692.3 L387.5,693.0999999999999 Q390.3,695.3 391.3,700.3 L397.6,707.0 L390.3,713.3 L387.5,716.5 L375.1,715.3 Q369.8,712.3 368.3,704.3 Q369.3,701.3 371.8,700.8 Z" fill="#fff" stroke="#151515" stroke-width="1.8" stroke-linejoin="round"/>
<path d="M372.8,696.5 L376.5,708.9 L386.6,707.3 M386.6,694.3 L386.6,708.9 M389.8,694.8 L389.8,708.3 M375.1,715.3 L390.3,713.3 M389.8,708.3 L397.3,707.0" stroke="#151515" stroke-width="1.3" fill="none"/>
<path d="M370.8,701.8 L373.3,700.8 L376.8,709.3 L374.3,710.3 Z" fill="#333"/>
<path d="M376.8,709.8 Q381.3,713.3 387.3,709.3" stroke="#151515" stroke-width="2.4" fill="none"/>
<ellipse cx="382.8" cy="717.0999999999999" rx="2" ry="1.3" fill="#151515"/><ellipse cx="386.8" cy="716.9" rx="1.8" ry="1.3" fill="#151515"/>
<path d="M364,703.6 L369,703.6" stroke="#1c2424" stroke-width="1.25" fill="none" stroke-linecap="round" stroke-linejoin="round"/>
<ellipse cx="388.1" cy="678.9" rx="3.2" ry="2.3" fill="#151515"/>
<path d="M386.90000000000003,678.9 L389.3,678.9" stroke="#777" stroke-width="0.6"/>
<path d="M380.1,678.9 L384.90000000000003,678.9" stroke="#1c2424" stroke-width="1.25" fill="none" stroke-linecap="round" stroke-linejoin="round"/>
<ellipse cx="383.3" cy="728.9" rx="3.2" ry="2.3" fill="#151515"/>
<path d="M382.1,728.9 L384.5,728.9" stroke="#777" stroke-width="0.6"/>
<path d="M375.9,728.9 L380.1,728.9" stroke="#1c2424" stroke-width="1.25" fill="none" stroke-linecap="round" stroke-linejoin="round"/>
<path d="M477.5,655.7 Q482,652.5 488.6,651.5 L492.2,652.3 Q495,654.5 496,659.5 L502.3,666.2 L495,672.5 L492.2,675.7 L479.8,674.5 Q474.5,671.5 473,663.5 Q474,660.5 476.5,660.0 Z" fill="#fff" stroke="#151515" stroke-width="1.8" stroke-linejoin="round"/>
<path d="M477.5,655.7 L481.2,668.1 L491.3,666.5 M491.3,653.5 L491.3,668.1 M494.5,654.0 L494.5,667.5 M479.8,674.5 L495,672.5 M494.5,667.5 L502,666.2" stroke="#151515" stroke-width="1.3" fill="none"/>
<path d="M475.5,661.0 L478,660.0 L481.5,668.5 L479,669.5 Z" fill="#333"/>
<path d="M481.5,669.0 Q486,672.5 492,668.5" stroke="#151515" stroke-width="2.4" fill="none"/>
<ellipse cx="487.5" cy="676.3" rx="2" ry="1.3" fill="#151515"/><ellipse cx="491.5" cy="676.1" rx="1.8" ry="1.3" fill="#151515"/>
<path d="M467.5,665.2 L473.5,665.2" stroke="#1c2424" stroke-width="1.25" fill="none" stroke-linecap="round" stroke-linejoin="round"/>
<ellipse cx="491.6" cy="641.1" rx="3.2" ry="2.3" fill="#151515"/>
<path d="M490.40000000000003,641.1 L492.8,641.1" stroke="#777" stroke-width="0.6"/>
<path d="M485.3,641.1 L488.40000000000003,641.1" stroke="#1c2424" stroke-width="1.25" fill="none" stroke-linecap="round" stroke-linejoin="round"/>
<ellipse cx="486.5" cy="693.7" rx="3.2" ry="2.3" fill="#151515"/>
<path d="M485.3,693.7 L487.7,693.7" stroke="#777" stroke-width="0.6"/>
<path d="M479.5,693.7 L483.3,693.7" stroke="#1c2424" stroke-width="1.25" fill="none" stroke-linecap="round" stroke-linejoin="round"/>
<path d="M425.1,748.0999999999999 L433.5,749.8 L447.4,745.5999999999999 L434.5,755.5 Z M425.1,748.0999999999999 L425.3,750.5999999999999 L434.5,757.3 L434.5,755.5" fill="#fff" stroke="#151515" stroke-width="1.5" stroke-linejoin="round"/>
<path d="M432.5,735.8 L442.5,733.1999999999999 L446.5,747.3 L435.0,751.8 Z" fill="#fff" stroke="#151515" stroke-width="1.7" stroke-linejoin="round"/>
<path d="M435.8,735.0999999999999 L438.3,750.5999999999999 M439.3,734.1999999999999 L442.3,749.0999999999999" stroke="#151515" stroke-width="1.4" fill="none"/>
<path d="M431.5,734.8 L445.5,731.3" stroke="#151515" stroke-width="1.6"/>
<rect x="428.5" y="723.3" width="3.8" height="12" fill="#fff" stroke="#151515" stroke-width="1.3"/>
<ellipse cx="430.4" cy="723.5" rx="1.9" ry="0.9" fill="#fff" stroke="#151515" stroke-width="1.1"/>
<path d="M423.5,732.8 Q424.0,729.3 427.0,729.8 L429.5,734.8 L428.5,738.8 Q424.0,737.3 423.5,732.8 Z" fill="#fff" stroke="#151515" stroke-width="1.4"/>
<path d="M425.0,730.8 L427.0,733.8" stroke="#151515" stroke-width="1.5"/>
<ellipse cx="434.5" cy="756.3" rx="1.5" ry="1" fill="#151515"/>
<path d="M417,734.3 L424,734.3" stroke="#1c2424" stroke-width="1.25" fill="none" stroke-linecap="round" stroke-linejoin="round"/>
<ellipse cx="430.9" cy="715" rx="3.2" ry="2.3" fill="#151515"/>
<path d="M429.7,715 L432.09999999999997,715" stroke="#777" stroke-width="0.6"/>
<path d="M423.5,715 L427.7,715" stroke="#1c2424" stroke-width="1.25" fill="none" stroke-linecap="round" stroke-linejoin="round"/>
<ellipse cx="434.5" cy="763.8" rx="3.2" ry="2.3" fill="#151515"/>
<path d="M433.3,763.8 L435.7,763.8" stroke="#777" stroke-width="0.6"/>
<path d="M426.5,763.8 L431.3,763.8" stroke="#1c2424" stroke-width="1.25" fill="none" stroke-linecap="round" stroke-linejoin="round"/>
<path d="M528.6,707.6999999999999 L537,709.4 L550.9,705.1999999999999 L538,715.1 Z M528.6,707.6999999999999 L528.8,710.1999999999999 L538,716.9 L538,715.1" fill="#fff" stroke="#151515" stroke-width="1.5" stroke-linejoin="round"/>
<path d="M536,695.4 L546,692.8 L550,706.9 L538.5,711.4 Z" fill="#fff" stroke="#151515" stroke-width="1.7" stroke-linejoin="round"/>
<path d="M539.3,694.6999999999999 L541.8,710.1999999999999 M542.8,693.8 L545.8,708.6999999999999" stroke="#151515" stroke-width="1.4" fill="none"/>
<path d="M535,694.4 L549,690.9" stroke="#151515" stroke-width="1.6"/>
<rect x="532" y="682.9" width="3.8" height="12" fill="#fff" stroke="#151515" stroke-width="1.3"/>
<ellipse cx="533.9" cy="683.1" rx="1.9" ry="0.9" fill="#fff" stroke="#151515" stroke-width="1.1"/>
<path d="M527,692.4 Q527.5,688.9 530.5,689.4 L533,694.4 L532,698.4 Q527.5,696.9 527,692.4 Z" fill="#fff" stroke="#151515" stroke-width="1.4"/>
<path d="M528.5,690.4 L530.5,693.4" stroke="#151515" stroke-width="1.5"/>
<ellipse cx="538" cy="715.9" rx="1.5" ry="1" fill="#151515"/>
<path d="M521,696.1 L527.5,696.1" stroke="#1c2424" stroke-width="1.25" fill="none" stroke-linecap="round" stroke-linejoin="round"/>
<ellipse cx="534.6" cy="672.1" rx="3.2" ry="2.3" fill="#151515"/>
<path d="M533.4,672.1 L535.8000000000001,672.1" stroke="#777" stroke-width="0.6"/>
<path d="M528.3,672.1 L531.4,672.1" stroke="#1c2424" stroke-width="1.25" fill="none" stroke-linecap="round" stroke-linejoin="round"/>
<ellipse cx="536.4" cy="727.8" rx="3.2" ry="2.3" fill="#151515"/>
<path d="M535.1999999999999,727.8 L537.6,727.8" stroke="#777" stroke-width="0.6"/>
<path d="M529.4,727.8 L533.1999999999999,727.8" stroke="#1c2424" stroke-width="1.25" fill="none" stroke-linecap="round" stroke-linejoin="round"/>
<path d="M555.0,627.4 L580.7,616.7" stroke="#1b1b1b" stroke-width="1.4" fill="none" stroke-linecap="round" stroke-linejoin="round"/>
<path d="M593.6,611.4 L619.4,600.8" stroke="#1b1b1b" stroke-width="1.4" fill="none" stroke-linecap="round" stroke-linejoin="round"/>
<path d="M632.2,595.4 L658.0,584.8" stroke="#1b1b1b" stroke-width="1.4" fill="none" stroke-linecap="round" stroke-linejoin="round"/>
<path d="M670.8,579.4 L696.6,568.8" stroke="#1b1b1b" stroke-width="1.4" fill="none" stroke-linecap="round" stroke-linejoin="round"/>
<path d="M709.4,563.4 L735.2,552.8" stroke="#1b1b1b" stroke-width="1.4" fill="none" stroke-linecap="round" stroke-linejoin="round"/>
<path d="M748.1,547.5 L773.8,536.8" stroke="#1b1b1b" stroke-width="1.4" fill="none" stroke-linecap="round" stroke-linejoin="round"/>
<path d="M773.8,536.8 L792.0,552.9" stroke="#1b1b1b" stroke-width="1.4" fill="none" stroke-linecap="round" stroke-linejoin="round"/>
<path d="M802.9,562.5 L821.1,578.6" stroke="#1b1b1b" stroke-width="1.4" fill="none" stroke-linecap="round" stroke-linejoin="round"/>
<path d="M832.0,588.3 L850.2,604.3" stroke="#1b1b1b" stroke-width="1.4" fill="none" stroke-linecap="round" stroke-linejoin="round"/>
<path d="M861.1,614.0 L879.2,630.1" stroke="#1b1b1b" stroke-width="1.4" fill="none" stroke-linecap="round" stroke-linejoin="round"/>
<path d="M890.2,639.7 L908.3,655.8" stroke="#1b1b1b" stroke-width="1.4" fill="none" stroke-linecap="round" stroke-linejoin="round"/>
<path d="M919.2,665.5 L937.4,681.5" stroke="#1b1b1b" stroke-width="1.4" fill="none" stroke-linecap="round" stroke-linejoin="round"/>
<path d="M948.3,691.2 L966.5,707.3" stroke="#1b1b1b" stroke-width="1.4" fill="none" stroke-linecap="round" stroke-linejoin="round"/>
<path d="M977.4,716.9 L995.6,733.0" stroke="#1b1b1b" stroke-width="1.4" fill="none" stroke-linecap="round" stroke-linejoin="round"/>
<path d="M995.6,733.0 L964.3,747.3" stroke="#1b1b1b" stroke-width="1.4" fill="none" stroke-linecap="round" stroke-linejoin="round"/>
<path d="M950.2,753.8 L918.9,768.1" stroke="#1b1b1b" stroke-width="1.4" fill="none" stroke-linecap="round" stroke-linejoin="round"/>
<path d="M904.8,774.5 L873.4,788.9" stroke="#1b1b1b" stroke-width="1.4" fill="none" stroke-linecap="round" stroke-linejoin="round"/>
<path d="M859.3,795.3 L828.0,809.6" stroke="#1b1b1b" stroke-width="1.4" fill="none" stroke-linecap="round" stroke-linejoin="round"/>
<path d="M813.9,816.1 L782.6,830.4" stroke="#1b1b1b" stroke-width="1.4" fill="none" stroke-linecap="round" stroke-linejoin="round"/>
<path d="M782.6,830.4 L760.5,810.7" stroke="#1b1b1b" stroke-width="1.4" fill="none" stroke-linecap="round" stroke-linejoin="round"/>
<path d="M748.3,799.9 L726.3,780.1" stroke="#1b1b1b" stroke-width="1.4" fill="none" stroke-linecap="round" stroke-linejoin="round"/>
<path d="M714.1,769.3 L692.0,749.6" stroke="#1b1b1b" stroke-width="1.4" fill="none" stroke-linecap="round" stroke-linejoin="round"/>
<path d="M679.8,738.8 L657.8,719.0" stroke="#1b1b1b" stroke-width="1.4" fill="none" stroke-linecap="round" stroke-linejoin="round"/>
<path d="M645.6,708.2 L623.5,688.5" stroke="#1b1b1b" stroke-width="1.4" fill="none" stroke-linecap="round" stroke-linejoin="round"/>
<path d="M611.3,677.7 L589.3,657.9" stroke="#1b1b1b" stroke-width="1.4" fill="none" stroke-linecap="round" stroke-linejoin="round"/>
<path d="M577.1,647.1 L555.0,627.4" stroke="#1b1b1b" stroke-width="1.4" fill="none" stroke-linecap="round" stroke-linejoin="round"/>
<path d="M619.6,608.5 L756.4,552.1 L773.3,556.6 L776.9,595.7 L637.3,652.5 L622.2,645.4 Z" fill="#fff" stroke="#151515" stroke-width="1.3" stroke-linejoin="round"/>
<path d="M619.6,608.5 L634.5,613.5 L773.3,556.6 M634.5,613.5 L637.3,652.5" stroke="#151515" stroke-width="1.2" fill="none"/>
<path d="M756,563 L770.5,559.5 L772.5,592.5 L757.5,598 Z" fill="none" stroke="#151515" stroke-width="1.1"/>
<path d="M757,568 L760,567 L761.5,594" stroke="#151515" stroke-width="0.9" fill="none"/>
<path d="M638,617 L756,567 M640,648 L757.5,598 M710,620 L757,600" stroke="#151515" stroke-width="1" fill="none"/>
<ellipse cx="726.6" cy="587" rx="4.8" ry="5.4" fill="none" stroke="#151515" stroke-width="1.2"/>
<path d="M635,616 L653,608 L684,599 L685,606 L712,617 L712.5,621 L660,643 L640,645 L637,620 Z" fill="#fff" stroke="#151515" stroke-width="1.2" stroke-linejoin="round"/>
<path d="M640,620 L650,617 L656,642 M653,612 L683,600 M653,617 L684,605 M654,621 L683,610 M658,628 L690,616 M659,635 L712,615 M660,640 L711,620" stroke="#151515" stroke-width="1.1" fill="none"/>
<path d="M651,608.5 L655,612 L654,641" stroke="#151515" stroke-width="1.8" fill="none"/>
<path d="M637,618 L641,617 L645,640 L640,642 Z" fill="#151515"/>
<path d="M656.9,656.1 L814,592.2 Q838,610 841.9,629.3 L843.7,683 L693.7,744.1 L690,697.8 C686,682 675,666 656.9,656.1 Z" fill="#fff" stroke="#151515" stroke-width="1.4" stroke-linejoin="round"/>
<path d="M658,659 L815,595 M690,694 L841.9,629.3 M690.5,698 L842,633" stroke="#151515" stroke-width="1.1" fill="none"/>
<path d="M660,661 C677,670 687,683 690,697" stroke="#151515" stroke-width="1" fill="none"/>
<path d="M671.5,737 L671.5,740" stroke="#1c2424" stroke-width="1.25" fill="none" stroke-linecap="round" stroke-linejoin="round"/>
<circle cx="741.9" cy="766.3" r="5.5" fill="#151515"/><circle cx="742.5" cy="765.5" r="3.2" fill="none" stroke="#999" stroke-width="0.8"/>
<path d="M745,771.5 L745,776.5" stroke="#1c2424" stroke-width="1.25" fill="none" stroke-linecap="round" stroke-linejoin="round"/>
<g transform="rotate(-18 769.5 757)"><rect x="759" y="751" width="21" height="12.5" rx="1.5" fill="#fff" stroke="#151515" stroke-width="1.6"/><rect x="763" y="754" width="13" height="6" fill="none" stroke="#151515" stroke-width="1.2"/><circle cx="776.5" cy="757" r="1" fill="#151515"/></g>
<circle cx="795.6" cy="749.6" r="4.4" fill="#151515"/><circle cx="796" cy="749" r="2" fill="none" stroke="#999" stroke-width="0.7"/>
<path d="M798.5,754 L798.5,758" stroke="#1c2424" stroke-width="1.25" fill="none" stroke-linecap="round" stroke-linejoin="round"/>
<path d="M801.5,713.3 L813.5,710.8 L815.5,716.8 L803.5,719.8 Z" fill="#fff" stroke="#151515" stroke-width="1.5"/>
<path d="M805.5,716.3 L812.5,714.3" stroke="#151515" stroke-width="2"/>
<path d="M813.5,719.8 L813.5,723.1" stroke="#1c2424" stroke-width="1.25" fill="none" stroke-linecap="round" stroke-linejoin="round"/>
<path d="M825.6,704.1 L837.6,701.6 L839.6,707.6 L827.6,710.6 Z" fill="#fff" stroke="#151515" stroke-width="1.5"/>
<path d="M829.6,707.1 L836.6,705.1" stroke="#151515" stroke-width="2"/>
<path d="M835.8,710.6 L835.8,714.6" stroke="#1c2424" stroke-width="1.25" fill="none" stroke-linecap="round" stroke-linejoin="round"/>
<path d="M815.5,734.5 L824.5,730.5 L828.5,742.5 L819.5,747.5 Z" fill="#fff" stroke="#151515" stroke-width="1.7"/>
<path d="M812.5,737.5 Q811.5,743.5 815.5,744.5 L817.5,743.5" fill="none" stroke="#151515" stroke-width="1.4"/>
<path d="M820.5,733.5 L823.5,745.5 M823.5,732.5 L826.5,743.5" stroke="#151515" stroke-width="1.5"/>
<path d="M816.5,736.5 L819.5,745.5" stroke="#151515" stroke-width="2.2"/>
<path d="M826.5,747.5 L826.5,751.6" stroke="#1c2424" stroke-width="1.25" fill="none" stroke-linecap="round" stroke-linejoin="round"/>
<path d="M837.7,727 L846.7,723 L850.7,735 L841.7,740 Z" fill="#fff" stroke="#151515" stroke-width="1.7"/>
<path d="M834.7,730 Q833.7,736 837.7,737 L839.7,736" fill="none" stroke="#151515" stroke-width="1.4"/>
<path d="M842.7,726 L845.7,738 M845.7,725 L848.7,736" stroke="#151515" stroke-width="1.5"/>
<path d="M838.7,729 L841.7,738" stroke="#151515" stroke-width="2.2"/>
<path d="M846.9,740 L846.9,744.6" stroke="#1c2424" stroke-width="1.25" fill="none" stroke-linecap="round" stroke-linejoin="round"/>
<path d="M857,704 Q856,701 859,700 L875,696 Q878,695.5 880,698 L883,707 L883,721 Q883,724 880,725 L866,729 Q862,730 860,727 L856.5,722 Z" fill="#fff" stroke="#151515" stroke-width="1.7"/>
<ellipse cx="872.5" cy="716.5" rx="9.3" ry="11.2" fill="#fff" stroke="#151515" stroke-width="2" transform="rotate(-12 872.5 716.5)"/>
<ellipse cx="874" cy="717.5" rx="6.6" ry="8.2" fill="none" stroke="#151515" stroke-width="1.3" transform="rotate(-12 874 717.5)"/>
<rect x="870.5" y="715" width="6.5" height="4.6" fill="#fff" stroke="#151515" stroke-width="1.3" transform="rotate(-15 873.7 717.3)"/>
<path d="M860,703 L863,709 M861,722 L864,726" stroke="#151515" stroke-width="1.4"/>
<path d="M875,728.5 L875,730" stroke="#1c2424" stroke-width="1.25" fill="none" stroke-linecap="round" stroke-linejoin="round"/>
<circle cx="893.7" cy="749.6" r="2.2" fill="#151515"/>
<path d="M894.5,752 L894.5,756" stroke="#1c2424" stroke-width="1.25" fill="none" stroke-linecap="round" stroke-linejoin="round"/>
<path d="M889,690 L899.5,686.5 L906.7,703 L896,708.9 Z" fill="#fff" stroke="#151515" stroke-width="1.8"/>
<path d="M891.5,692 L899,689.5 L903,700 L895.5,704" fill="none" stroke="#151515" stroke-width="1.2"/>
<path d="M890,695 L893,694 M903,697 L906,696 M895,706 L897,704" stroke="#151515" stroke-width="1.6"/>
<rect x="893" y="686" width="4" height="2.4" fill="#151515" transform="rotate(-18 895 687)"/>
<path d="M900.5,708 L900.5,711" stroke="#1c2424" stroke-width="1.25" fill="none" stroke-linecap="round" stroke-linejoin="round"/>
<path d="M908.5,681 L920,677.4 L927,696 L915.5,701.5 Z" fill="#fff" stroke="#151515" stroke-width="1.8"/>
<path d="M911,683 L919,680.5 L924,693.5 L916,697" fill="none" stroke="#151515" stroke-width="1.2"/>
<path d="M909,686 L912,685 M923,689 L926.5,688 M914,699 L917,698" stroke="#151515" stroke-width="1.6"/>
<rect x="912" y="677" width="5" height="2.4" fill="#151515" transform="rotate(-18 914 678)"/>
<path d="M926.5,700 L926.5,703" stroke="#1c2424" stroke-width="1.25" fill="none" stroke-linecap="round" stroke-linejoin="round"/>
<path d="M921,731.5 L929,729.0 Q933,730.5 933,734.5 L926,737.5 Q922,736.5 921,731.5 Z" fill="#151515"/>
<path d="M924,733.0 L930,731.0" stroke="#888" stroke-width="0.7"/>
<path d="M931.4,737.5 L931.4,740.5" stroke="#1c2424" stroke-width="1.25" fill="none" stroke-linecap="round" stroke-linejoin="round"/>
<path d="M946,721.7 L954,719.2 Q958,720.7 958,724.7 L951,727.7 Q947,726.7 946,721.7 Z" fill="#151515"/>
<path d="M949,723.2 L955,721.2" stroke="#888" stroke-width="0.7"/>
<path d="M956.2,727.7 L956.2,729.8" stroke="#1c2424" stroke-width="1.25" fill="none" stroke-linecap="round" stroke-linejoin="round"/>
<path d="M62.5,619.9 L65,610 L76.6,601.6 L88.2,598.3 L104.9,595 L108,592 L124,597.3 L140.7,590.4 L153,590.8 L163.8,592.2 L167.5,595.9 L176.9,610.4 L182,616 L202.3,609.6 L210.5,612.4 L221.5,622 L227,633 L231.2,641.3 L231.2,655 L225.7,664.6 L224,680 L210,690 L207.8,700 L174.7,713 L154.7,711.3 L133.1,706.3 L104.9,696.4 L94.9,694.7 L70,688 Z" fill="#fff" stroke="#151515" stroke-width="1.8" stroke-linejoin="round"/>
<defs><clipPath id="engclip"><path d="M62.5,619.9 L65,610 L76.6,601.6 L88.2,598.3 L104.9,595 L108,592 L124,597.3 L140.7,590.4 L153,590.8 L163.8,592.2 L167.5,595.9 L176.9,610.4 L182,616 L202.3,609.6 L210.5,612.4 L221.5,622 L227,633 L231.2,641.3 L231.2,655 L225.7,664.6 L224,680 L210,690 L207.8,700 L174.7,713 L154.7,711.3 L133.1,706.3 L104.9,696.4 L94.9,694.7 L70,688 Z"/></clipPath></defs><g clip-path="url(#engclip)">
<path d="M106,604 L124,597.3 L140.7,590.4 L153,590.8 L163.8,592.2 L167.5,595.9 L176.9,610.4 L172,618 L150,628 L128,634 L112,628 Z" stroke="#151515" fill="none" stroke-width="1.8" stroke-linejoin="round"/>
<path d="M110.0,610.0 L158.0,590.0" stroke="#151515" fill="none" stroke-width="1.3" stroke-linejoin="round"/>
<path d="M113.2,613.3 L161.2,593.3" stroke="#151515" fill="none" stroke-width="1.3" stroke-linejoin="round"/>
<path d="M116.4,616.6 L164.4,596.6" stroke="#151515" fill="none" stroke-width="1.3" stroke-linejoin="round"/>
<path d="M119.6,619.9 L167.6,599.9" stroke="#151515" fill="none" stroke-width="1.3" stroke-linejoin="round"/>
<path d="M122.8,623.2 L170.8,603.2" stroke="#151515" fill="none" stroke-width="1.3" stroke-linejoin="round"/>
<path d="M126.0,626.5 L174.0,606.5" stroke="#151515" fill="none" stroke-width="1.3" stroke-linejoin="round"/>
<path d="M129.2,629.8 L177.2,609.8" stroke="#151515" fill="none" stroke-width="1.3" stroke-linejoin="round"/>
<path d="M126.0,597.0 L140.0,609.0" stroke="#151515" fill="none" stroke-width="1.8" stroke-linejoin="round"/>
<path d="M135.0,594.5 L149.0,606.5" stroke="#151515" fill="none" stroke-width="1.8" stroke-linejoin="round"/>
<path d="M144.0,592.0 L158.0,604.0" stroke="#151515" fill="none" stroke-width="1.8" stroke-linejoin="round"/>
<path d="M153.0,589.5 L167.0,601.5" stroke="#151515" fill="none" stroke-width="1.8" stroke-linejoin="round"/>
<path d="M162.0,587.0 L176.0,599.0" stroke="#151515" fill="none" stroke-width="1.8" stroke-linejoin="round"/>
<path d="M128,598 L145,592 L150,596 L133,603 Z" fill="#151515"/>
<path d="M150,607 L166,601 L170,606 L154,613 Z" fill="#151515"/>
<path d="M118,617 L140,609 L143,613 L121,621 Z" fill="#1e1e1e"/>
<path d="M158,620 L176,612 L179,617 L162,625 Z" fill="#151515"/>
<path d="M118,603 Q123,599 128,602 Q129,608 123,610 Q118,608 118,603 Z" stroke="#151515" fill="none" stroke-width="1.8" stroke-linejoin="round"/>
<path d="M107,596 L110,590.5 L113,591.5 L111,598 Z" fill="#151515"/>
<path d="M64,616 L70,609 L78,606 L86,601 L92,602 L99,604 L104,611 L102,622 L95,627 L86,627 L74,623 L66,621 Z" fill="#fff" stroke="#151515" stroke-width="1.5"/>
<path d="M66,616 L80,611 L88,613 L100,609 M70,620 L84,616 L96,619 M76,608 L80,615 M88,604 L90,612 M95,606 L97,616 M82,621 L86,626" stroke="#151515" stroke-width="1.5" fill="none"/>
<path d="M71,612 L76,610 L77,614 L72,616 Z M88,614 L94,612 L95,617 L89,619 Z M96,620 L101,618 L101,623 L96,624 Z M79,617 L83,616 L84,620 L80,621 Z" fill="#151515"/>
<path d="M78,602 L82,597 L88,597 L90,602 M64,610 L66,604 L70,603 M95,601 L98,596 L102,597" stroke="#151515" stroke-width="1.6" fill="none"/>
<circle cx="90" cy="607" r="1.6" fill="#151515"/>
<path d="M67,617 L75,612 L80,614 L78,620 L70,621 Z M82,609 L90,604 L96,606 L97,612 L88,616 L84,615 Z M92,617 L100,613 L104,616 L102,623 L95,625 Z M74,622 L82,619 L86,623 L80,626 Z" fill="#1c1c1c"/>
<path d="M72,616 L77,614 M86,609 L93,607 M95,619 L100,617" stroke="#aaa" stroke-width="0.8"/>
<path d="M160,624 L188,615 L192,621 L166,632 Z" fill="#161616"/>
<path d="M166,634 L190,626 L194,632 L170,641 Z" fill="#262626"/>
<path d="M170,627 L186,621" stroke="#fff" stroke-width="0.9"/>
<path d="M182,617 L204,610.3 L217.5,619.3 L225,626.7 L229.4,640.1 L230.9,652 L227,662 L216,668 L200,664 L194,645 L190,628 Z" stroke="#151515" fill="none" stroke-width="1.8" stroke-linejoin="round"/>
<path d="M186.0,622.0 L222.0,612.5" stroke="#151515" fill="none" stroke-width="1.3" stroke-linejoin="round"/>
<path d="M187.6,627.2 L222.8,617.7" stroke="#151515" fill="none" stroke-width="1.3" stroke-linejoin="round"/>
<path d="M189.2,632.4 L223.6,622.9" stroke="#151515" fill="none" stroke-width="1.3" stroke-linejoin="round"/>
<path d="M190.8,637.6 L224.4,628.1" stroke="#151515" fill="none" stroke-width="1.3" stroke-linejoin="round"/>
<path d="M192.4,642.8 L225.2,633.3" stroke="#151515" fill="none" stroke-width="1.3" stroke-linejoin="round"/>
<path d="M194.0,648.0 L226.0,638.5" stroke="#151515" fill="none" stroke-width="1.3" stroke-linejoin="round"/>
<path d="M213,616 Q223,625 226,640 Q227,652 224,660 M219,620 Q228,632 229.5,646" stroke="#151515" fill="none" stroke-width="1.3" stroke-linejoin="round"/>
<path d="M205,612 L213,616 L212,620 L204,616 Z" fill="#1e1e1e"/>
<path d="M217,636 L226,633 L227,640 L218,643 Z" fill="#1e1e1e"/>
<path d="M203,668 L218,662 Q226,667 225.5,678 L210,688 Q203,682 203,668 Z" stroke="#151515" fill="none" stroke-width="1.3" stroke-linejoin="round"/>
<ellipse cx="218.5" cy="676.5" rx="3.4" ry="4.8" fill="#fff" stroke="#151515" stroke-width="1.7" transform="rotate(-20 218.5 676.5)"/>
<path d="M196,662 L214,656 L216,664 M198,670 L206,667" stroke="#151515" fill="none" stroke-width="1.3" stroke-linejoin="round"/>
<path d="M160,628 Q170,642 172,662 Q172,685 168,702 M168,630 Q177,646 179,666 Q179,690 176,708 M184,634 L188,690 M190,636 L194,688" stroke="#151515" fill="none" stroke-width="1.3" stroke-linejoin="round"/>
<path d="M172,640 L190,634 M173,652 L192,646 M174,664 L194,658 M174,676 L196,670 M172,688 L198,682" stroke="#151515" fill="none" stroke-width="1.3" stroke-linejoin="round"/>
<path d="M175,642 L183,640 L184,650 L176,652 Z" fill="#1a1a1a"/>
<path d="M177,668 L186,665 L187,676 L178,679 Z" fill="#222"/>
<path d="M186,660 L195,657 L196,670 L187,672 Z" fill="#fff" stroke="#151515" stroke-width="1"/>
<circle cx="191" cy="665" r="1.9" fill="none" stroke="#151515" stroke-width="1.3"/>
<path d="M168,700 L205,690 L207.8,700 L174.7,713 L170,711 Z" stroke="#151515" fill="none" stroke-width="1.8" stroke-linejoin="round"/>
<path d="M172,704 L203,695 L204,699 L174,708 Z" fill="#1e1e1e"/>
<path d="M176.0,706.0 L176.0,703.0" stroke="#fff" stroke-width="0.8"/>
<path d="M180.5,704.7 L180.5,701.7" stroke="#fff" stroke-width="0.8"/>
<path d="M185.0,703.4 L185.0,700.4" stroke="#fff" stroke-width="0.8"/>
<path d="M189.5,702.1 L189.5,699.1" stroke="#fff" stroke-width="0.8"/>
<path d="M194.0,700.8 L194.0,697.8" stroke="#fff" stroke-width="0.8"/>
<path d="M198.5,699.5 L198.5,696.5" stroke="#fff" stroke-width="0.8"/>
<path d="M148,640 L172,630 M150,655 L170,649 M152,672 L168,667 M148,690 L166,685 M146,700 L164,697" stroke="#151515" fill="none" stroke-width="1.3" stroke-linejoin="round"/>
<path d="M150,662 L160,646 L170,642 M152,682 L165,662" stroke="#151515" fill="none" stroke-width="1.3" stroke-linejoin="round"/>
<path d="M140,634 Q150,640 156,652 Q160,668 157,690 Q152,704 142,709" stroke="#151515" fill="none" stroke-width="1.8" stroke-linejoin="round"/>
<path d="M145,633 Q156,640 161,654 Q165,672 161,692 Q156,706 148,711" stroke="#151515" fill="none" stroke-width="1.3" stroke-linejoin="round"/>
<path d="M116,639 Q145,640 155,664 Q161,688 151,705 Q140,715 124,713" stroke="#151515" fill="none" stroke-width="1.8" stroke-linejoin="round"/>
<path d="M112,642 Q140,644 150,666 Q156,688 147,703 Q137,712 122,710" stroke="#151515" fill="none" stroke-width="1.3" stroke-linejoin="round"/>
<ellipse cx="127" cy="678.5" rx="24" ry="35" fill="#151515" transform="rotate(-12 127 678.5)"/>
<path d="M127.3,659.0 L127.5,645.0" stroke="#fff" stroke-width="0.75" transform="rotate(-12 127 678.5)"/>
<path d="M128.7,659.2 L129.9,645.3" stroke="#fff" stroke-width="0.75" transform="rotate(-12 127 678.5)"/>
<path d="M130.1,659.5 L132.3,645.9" stroke="#fff" stroke-width="0.75" transform="rotate(-12 127 678.5)"/>
<path d="M131.4,660.1 L134.6,646.9" stroke="#fff" stroke-width="0.75" transform="rotate(-12 127 678.5)"/>
<path d="M132.8,660.9 L136.8,648.2" stroke="#fff" stroke-width="0.75" transform="rotate(-12 127 678.5)"/>
<path d="M134.0,661.8 L138.9,649.9" stroke="#fff" stroke-width="0.75" transform="rotate(-12 127 678.5)"/>
<path d="M135.2,663.0 L140.9,651.8" stroke="#fff" stroke-width="0.75" transform="rotate(-12 127 678.5)"/>
<path d="M136.3,664.3 L142.8,654.1" stroke="#fff" stroke-width="0.75" transform="rotate(-12 127 678.5)"/>
<path d="M137.2,665.8 L144.4,656.7" stroke="#fff" stroke-width="0.75" transform="rotate(-12 127 678.5)"/>
<path d="M138.1,667.4 L145.9,659.4" stroke="#fff" stroke-width="0.75" transform="rotate(-12 127 678.5)"/>
<path d="M138.8,669.2 L147.2,662.4" stroke="#fff" stroke-width="0.75" transform="rotate(-12 127 678.5)"/>
<path d="M139.5,671.0 L148.2,665.6" stroke="#fff" stroke-width="0.75" transform="rotate(-12 127 678.5)"/>
<path d="M139.9,672.9 L149.0,668.9" stroke="#fff" stroke-width="0.75" transform="rotate(-12 127 678.5)"/>
<path d="M140.3,674.9 L149.6,672.3" stroke="#fff" stroke-width="0.75" transform="rotate(-12 127 678.5)"/>
<path d="M140.5,676.9 L149.9,675.8" stroke="#fff" stroke-width="0.75" transform="rotate(-12 127 678.5)"/>
<path d="M140.5,679.0 L150.0,679.3" stroke="#fff" stroke-width="0.75" transform="rotate(-12 127 678.5)"/>
<path d="M140.4,681.0 L149.8,682.8" stroke="#fff" stroke-width="0.75" transform="rotate(-12 127 678.5)"/>
<path d="M140.1,683.0 L149.4,686.3" stroke="#fff" stroke-width="0.75" transform="rotate(-12 127 678.5)"/>
<path d="M139.7,685.0 L148.7,689.7" stroke="#fff" stroke-width="0.75" transform="rotate(-12 127 678.5)"/>
<path d="M139.2,686.9 L147.8,692.9" stroke="#fff" stroke-width="0.75" transform="rotate(-12 127 678.5)"/>
<path d="M138.5,688.7 L146.6,696.0" stroke="#fff" stroke-width="0.75" transform="rotate(-12 127 678.5)"/>
<path d="M137.7,690.4 L145.2,698.9" stroke="#fff" stroke-width="0.75" transform="rotate(-12 127 678.5)"/>
<path d="M136.8,691.9 L143.7,701.6" stroke="#fff" stroke-width="0.75" transform="rotate(-12 127 678.5)"/>
<path d="M135.8,693.3 L141.9,704.0" stroke="#fff" stroke-width="0.75" transform="rotate(-12 127 678.5)"/>
<path d="M134.6,694.6 L140.0,706.1" stroke="#fff" stroke-width="0.75" transform="rotate(-12 127 678.5)"/>
<path d="M133.4,695.7 L137.9,708.0" stroke="#fff" stroke-width="0.75" transform="rotate(-12 127 678.5)"/>
<path d="M132.1,696.5 L135.8,709.5" stroke="#fff" stroke-width="0.75" transform="rotate(-12 127 678.5)"/>
<path d="M130.8,697.2 L133.5,710.6" stroke="#fff" stroke-width="0.75" transform="rotate(-12 127 678.5)"/>
<path d="M129.4,697.7 L131.1,711.5" stroke="#fff" stroke-width="0.75" transform="rotate(-12 127 678.5)"/>
<path d="M128.0,697.9 L128.7,711.9" stroke="#fff" stroke-width="0.75" transform="rotate(-12 127 678.5)"/>
<ellipse cx="118.5" cy="678.5" rx="7.6" ry="10" fill="#fff" transform="rotate(-14 118.5 678.5)"/>
<path d="M109,662 L111,664" stroke="#ccc" stroke-width="1.2"/>
<path d="M104,690 L106,692" stroke="#ccc" stroke-width="1.2"/>
<path d="M128,703 L130,705" stroke="#ccc" stroke-width="1.2"/>
<path d="M114,700 L116,702" stroke="#ccc" stroke-width="1.2"/>
<path d="M107,676 L108,678" stroke="#ccc" stroke-width="1.2"/>
<path d="M117,638 L130,654" stroke="#151515" stroke-width="5" stroke-linecap="round"/>
<path d="M117,638 L130,654" stroke="#fff" stroke-width="2.4" stroke-linecap="round"/>
<path d="M62.5,619.9 L89.3,628.2 L95.2,695.3 L69.9,686.3 Z" fill="#fff" stroke="#151515" stroke-width="1.8" stroke-linejoin="round"/>
<path d="M89.3,628.2 L96.7,631.2 L101.2,695.3 L95.2,695.3" fill="#fff" stroke="#151515" stroke-width="1.5" stroke-linejoin="round"/>
<path d="M92.5,630 L98,694" stroke="#151515" stroke-width="1.2"/>
<path d="M64,629.5 L88.3,636.9" stroke="#151515" stroke-width="1.5"/>
<path d="M64,632.0 L88.3,639.4" stroke="#151515" stroke-width="1.5"/>
<path d="M64,634.5 L88.3,641.9" stroke="#151515" stroke-width="1.5"/>
<path d="M64,637.0 L88.3,644.4" stroke="#151515" stroke-width="1.5"/>
<path d="M64,639.5 L88.3,646.9" stroke="#151515" stroke-width="1.5"/>
<path d="M64,642.0 L88.3,649.4" stroke="#151515" stroke-width="1.5"/>
<path d="M68.4,649.5 L89.5,656 L90.5,670 L69.5,663.5 Z" fill="#fff" stroke="#151515" stroke-width="1.5"/>
<path d="M69.8,666.5 L90.8,673 L92.3,692 L71,685 Z" fill="#fff" stroke="#151515" stroke-width="1.5"/>
<path d="M67,646 L89,653" stroke="#151515" stroke-width="1.2"/>
<path d="M71,684 L92,691" stroke="#151515" stroke-width="1.2"/>
<path d="M99.7,607.4 L103,698.3 M103.5,607 L106.5,698" stroke="#151515" stroke-width="1.4" fill="none"/>
<path d="M101,640 L105,640 M101.5,660 L105.5,660 M102,680 L106,680 M100.5,622 L104.5,622" stroke="#151515" stroke-width="1.8"/>
<path d="M76,699 L82,697 M60,624 L64,620" stroke="#151515" stroke-width="1.3"/>
</g>
<path d="M62.5,619.9 L65,610 L76.6,601.6 L88.2,598.3 L104.9,595 L108,592 L124,597.3 L140.7,590.4 L153,590.8 L163.8,592.2 L167.5,595.9 L176.9,610.4 L182,616 L202.3,609.6 L210.5,612.4 L221.5,622 L227,633 L231.2,641.3 L231.2,655 L225.7,664.6 L224,680 L210,690 L207.8,700 L174.7,713 L154.7,711.3 L133.1,706.3 L104.9,696.4 L94.9,694.7 L70,688 Z" fill="none" stroke="#151515" stroke-width="1.8" stroke-linejoin="round"/>
<path d="M176.3,713 L176.3,718" stroke="#1c2424" stroke-width="1.25" fill="none" stroke-linecap="round" stroke-linejoin="round"/>
<defs><filter id="nf"><feOffset dx="0" dy="0"/></filter></defs><g filter="url(#nf)"><text x="232" y="183.79999999999998" class="l" text-anchor="middle" textLength="5.6" lengthAdjust="spacingAndGlyphs">30</text>
<text x="300.5" y="193.89999999999998" class="l" text-anchor="middle" textLength="5.6" lengthAdjust="spacingAndGlyphs">37</text>
<text x="398" y="237.89999999999998" class="l" text-anchor="middle" textLength="5.6" lengthAdjust="spacingAndGlyphs">37</text>
<text x="173.5" y="261.9" class="l" text-anchor="middle" textLength="5.6" lengthAdjust="spacingAndGlyphs">37</text>
<text x="330" y="315.9" class="l" text-anchor="middle" textLength="5.6" lengthAdjust="spacingAndGlyphs">37</text>
<text x="215" y="366.0" class="l" text-anchor="middle" textLength="5.6" lengthAdjust="spacingAndGlyphs">12</text>
<text x="194" y="346.5" class="l" text-anchor="middle" textLength="5.6" lengthAdjust="spacingAndGlyphs">48</text>
<text x="240" y="336.4" class="l" text-anchor="middle" textLength="5.6" lengthAdjust="spacingAndGlyphs">11</text>
<text x="768.5" y="140.2" class="l" text-anchor="middle" textLength="5.6" lengthAdjust="spacingAndGlyphs">26</text>
<text x="646.5" y="143.39999999999998" class="l" text-anchor="middle" textLength="5.6" lengthAdjust="spacingAndGlyphs">28</text>
<text x="668.5" y="133.2" class="l" text-anchor="middle" textLength="5.6" lengthAdjust="spacingAndGlyphs">27</text>
<text x="686" y="126.2" class="l" text-anchor="middle" textLength="5.6" lengthAdjust="spacingAndGlyphs">24</text>
<text x="828.5" y="77.8" class="l" text-anchor="middle" textLength="5.6" lengthAdjust="spacingAndGlyphs">46</text>
<text x="853.7" y="96.4" class="l" text-anchor="middle" textLength="5.6" lengthAdjust="spacingAndGlyphs">46</text>
<text x="865" y="129.7" class="l" text-anchor="middle" textLength="5.6" lengthAdjust="spacingAndGlyphs">46</text>
<text x="845" y="141.39999999999998" class="l" text-anchor="middle" textLength="5.6" lengthAdjust="spacingAndGlyphs">46</text>
<text x="828.9" y="139.89999999999998" class="l" text-anchor="middle" textLength="5.6" lengthAdjust="spacingAndGlyphs">30</text>
<text x="937.3" y="150.39999999999998" class="l" text-anchor="middle" textLength="2.8" lengthAdjust="spacingAndGlyphs">3</text>
<text x="963.5" y="158.89999999999998" class="l" text-anchor="middle" textLength="5.6" lengthAdjust="spacingAndGlyphs">20</text>
<text x="977.5" y="179.5" class="l" text-anchor="middle" textLength="5.6" lengthAdjust="spacingAndGlyphs">17</text>
<text x="921.9" y="218.39999999999998" class="l" text-anchor="middle" textLength="5.6" lengthAdjust="spacingAndGlyphs">18</text>
<text x="966.8" y="226.2" class="l" text-anchor="middle" textLength="5.6" lengthAdjust="spacingAndGlyphs">20</text>
<text x="982.4" y="246.7" class="l" text-anchor="middle" textLength="2.8" lengthAdjust="spacingAndGlyphs">3</text>
<text x="902.4" y="168.6" class="l" text-anchor="middle" textLength="5.6" lengthAdjust="spacingAndGlyphs">60</text>
<text x="956" y="262.2" class="l" text-anchor="middle" textLength="5.6" lengthAdjust="spacingAndGlyphs">60</text>
<text x="1028.5" y="115.0" class="l" text-anchor="middle" textLength="5.6" lengthAdjust="spacingAndGlyphs">34</text>
<text x="1061" y="196.7" class="l" text-anchor="middle" textLength="5.6" lengthAdjust="spacingAndGlyphs">34</text>
<text x="1091.5" y="93.7" class="l" text-anchor="middle" textLength="5.6" lengthAdjust="spacingAndGlyphs">34</text>
<text x="1110.5" y="114.60000000000001" class="l" text-anchor="middle" textLength="5.6" lengthAdjust="spacingAndGlyphs">34</text>
<text x="1123.7" y="144.29999999999998" class="l" text-anchor="middle" textLength="5.6" lengthAdjust="spacingAndGlyphs">34</text>
<text x="1176.6" y="70.5" class="l" text-anchor="middle" textLength="5.6" lengthAdjust="spacingAndGlyphs">34</text>
<text x="1176.6" y="70.5" class="l" text-anchor="middle" textLength="5.6" lengthAdjust="spacingAndGlyphs">34</text>
<text x="1139" y="123.7" class="l" text-anchor="middle" textLength="5.6" lengthAdjust="spacingAndGlyphs">38</text>
<text x="1093.5" y="158.2" class="l" text-anchor="middle" textLength="5.6" lengthAdjust="spacingAndGlyphs">33</text>
<text x="869" y="284.2" class="l" text-anchor="middle" textLength="2.8" lengthAdjust="spacingAndGlyphs">2</text>
<text x="695.6" y="294.4" class="l" text-anchor="middle" textLength="5.6" lengthAdjust="spacingAndGlyphs">35</text>
<text x="739.7" y="353.5" class="l" text-anchor="middle" textLength="5.6" lengthAdjust="spacingAndGlyphs">35</text>
<text x="743.8" y="371.5" class="l" text-anchor="middle" textLength="5.6" lengthAdjust="spacingAndGlyphs">35</text>
<text x="758.5" y="375.2" class="l" text-anchor="middle" textLength="2.8" lengthAdjust="spacingAndGlyphs">1</text>
<text x="903.5" y="318.0" class="l" text-anchor="middle" textLength="5.6" lengthAdjust="spacingAndGlyphs">21</text>
<text x="902.5" y="337.5" class="l" text-anchor="middle" textLength="2.8" lengthAdjust="spacingAndGlyphs">5</text>
<text x="903.6" y="348.9" class="l" text-anchor="middle" textLength="2.8" lengthAdjust="spacingAndGlyphs">6</text>
<text x="904" y="359.4" class="l" text-anchor="middle" textLength="5.6" lengthAdjust="spacingAndGlyphs">45</text>
<text x="1099.5" y="311.5" class="l" text-anchor="middle" textLength="5.6" lengthAdjust="spacingAndGlyphs">21</text>
<text x="1044.2" y="431.2" class="l" text-anchor="middle" textLength="5.6" lengthAdjust="spacingAndGlyphs">21</text>
<text x="990.4" y="451.2" class="l" text-anchor="middle" textLength="5.6" lengthAdjust="spacingAndGlyphs">21</text>
<text x="1048.5" y="363.7" class="l" text-anchor="middle" textLength="5.6" lengthAdjust="spacingAndGlyphs">31</text>
<text x="904.3" y="408.9" class="l" text-anchor="middle" textLength="5.6" lengthAdjust="spacingAndGlyphs">51</text>
<text x="996.9" y="413.2" class="l" text-anchor="middle" textLength="5.6" lengthAdjust="spacingAndGlyphs">41</text>
<text x="940.6" y="486.5" class="l" text-anchor="middle" textLength="5.6" lengthAdjust="spacingAndGlyphs">39</text>
<text x="988" y="509.59999999999997" class="l" text-anchor="middle" textLength="5.6" lengthAdjust="spacingAndGlyphs">14</text>
<text x="1044.5" y="498.5" class="l" text-anchor="middle" textLength="5.6" lengthAdjust="spacingAndGlyphs">14</text>
<text x="990.6" y="472.0" class="l" text-anchor="middle" textLength="5.6" lengthAdjust="spacingAndGlyphs">45</text>
<text x="1054.6" y="459.0" class="l" text-anchor="middle" textLength="5.6" lengthAdjust="spacingAndGlyphs">45</text>
<text x="271.8" y="584.4000000000001" class="l" text-anchor="middle" textLength="5.6" lengthAdjust="spacingAndGlyphs">49</text>
<text x="141.6" y="571.9000000000001" class="l" text-anchor="middle" textLength="5.6" lengthAdjust="spacingAndGlyphs">19</text>
<text x="240.6" y="607.0" class="l" text-anchor="middle" textLength="5.6" lengthAdjust="spacingAndGlyphs">19</text>
<text x="155.6" y="556.6" class="l" text-anchor="middle" textLength="5.6" lengthAdjust="spacingAndGlyphs">42</text>
<text x="259.2" y="591.1" class="l" text-anchor="middle" textLength="5.6" lengthAdjust="spacingAndGlyphs">42</text>
<text x="312.3" y="630.5" class="l" text-anchor="middle" textLength="2.8" lengthAdjust="spacingAndGlyphs">8</text>
<text x="339.2" y="668.4000000000001" class="l" text-anchor="middle" textLength="5.6" lengthAdjust="spacingAndGlyphs">40</text>
<text x="258.7" y="702.8000000000001" class="l" text-anchor="middle" textLength="5.6" lengthAdjust="spacingAndGlyphs">43</text>
<text x="280" y="704.1" class="l" text-anchor="middle" textLength="5.6" lengthAdjust="spacingAndGlyphs">44</text>
<text x="134" y="748.9000000000001" class="l" text-anchor="middle" textLength="5.6" lengthAdjust="spacingAndGlyphs">45</text>
<text x="169.6" y="807.9000000000001" class="l" text-anchor="middle" textLength="5.6" lengthAdjust="spacingAndGlyphs">23</text>
<text x="234.6" y="791.1" class="l" text-anchor="middle" textLength="5.6" lengthAdjust="spacingAndGlyphs">15</text>
<text x="274.1" y="771.2" class="l" text-anchor="middle" textLength="5.6" lengthAdjust="spacingAndGlyphs">35</text>
<text x="363.5" y="558.7" class="l" text-anchor="middle" textLength="5.6" lengthAdjust="spacingAndGlyphs">19</text>
<text x="367.3" y="580.7" class="l" text-anchor="middle" textLength="5.6" lengthAdjust="spacingAndGlyphs">13</text>
<text x="432.3" y="589.7" class="l" text-anchor="middle" textLength="5.6" lengthAdjust="spacingAndGlyphs">19</text>
<text x="436.1" y="610.0" class="l" text-anchor="middle" textLength="5.6" lengthAdjust="spacingAndGlyphs">13</text>
<text x="452.9" y="512.2" class="l" text-anchor="middle" textLength="5.6" lengthAdjust="spacingAndGlyphs">19</text>
<text x="458.5" y="532.5" class="l" text-anchor="middle" textLength="5.6" lengthAdjust="spacingAndGlyphs">13</text>
<text x="555.5" y="539.7" class="l" text-anchor="middle" textLength="5.6" lengthAdjust="spacingAndGlyphs">19</text>
<text x="561" y="561.2" class="l" text-anchor="middle" textLength="5.6" lengthAdjust="spacingAndGlyphs">13</text>
<text x="531.7" y="458.2" class="l" text-anchor="middle" textLength="5.6" lengthAdjust="spacingAndGlyphs">32</text>
<text x="535" y="474.0" class="l" text-anchor="middle" textLength="5.6" lengthAdjust="spacingAndGlyphs">25</text>
<text x="531.7" y="494.0" class="l" text-anchor="middle" textLength="5.6" lengthAdjust="spacingAndGlyphs">32</text>
<text x="518.3" y="550.7" class="l" text-anchor="middle" textLength="2.8" lengthAdjust="spacingAndGlyphs">1</text>
<text x="505.9" y="566.2" class="l" text-anchor="middle" textLength="5.6" lengthAdjust="spacingAndGlyphs">16</text>
<text x="506.6" y="592.7" class="l" text-anchor="middle" textLength="5.6" lengthAdjust="spacingAndGlyphs">16</text>
<text x="509.70000000000005" y="625.4000000000001" class="l" text-anchor="middle" textLength="5.6" lengthAdjust="spacingAndGlyphs">16</text>
<text x="639.0" y="519.7" class="l" text-anchor="middle" textLength="5.6" lengthAdjust="spacingAndGlyphs">16</text>
<text x="640.5" y="545.7" class="l" text-anchor="middle" textLength="5.6" lengthAdjust="spacingAndGlyphs">16</text>
<text x="645.0" y="572.7" class="l" text-anchor="middle" textLength="5.6" lengthAdjust="spacingAndGlyphs">16</text>
<text x="360.4" y="707.0" class="l" text-anchor="middle" textLength="2.8" lengthAdjust="spacingAndGlyphs">9</text>
<text x="376.1" y="682.1" class="l" text-anchor="middle" textLength="5.6" lengthAdjust="spacingAndGlyphs">22</text>
<text x="371.9" y="732.1" class="l" text-anchor="middle" textLength="5.6" lengthAdjust="spacingAndGlyphs">10</text>
<text x="464.1" y="668.6" class="l" text-anchor="middle" textLength="2.8" lengthAdjust="spacingAndGlyphs">9</text>
<text x="481.3" y="644.3000000000001" class="l" text-anchor="middle" textLength="5.6" lengthAdjust="spacingAndGlyphs">22</text>
<text x="475.5" y="696.9000000000001" class="l" text-anchor="middle" textLength="5.6" lengthAdjust="spacingAndGlyphs">10</text>
<text x="414" y="737.7" class="l" text-anchor="middle" textLength="2.8" lengthAdjust="spacingAndGlyphs">9</text>
<text x="419.5" y="718.2" class="l" text-anchor="middle" textLength="5.6" lengthAdjust="spacingAndGlyphs">22</text>
<text x="422.5" y="767.0" class="l" text-anchor="middle" textLength="5.6" lengthAdjust="spacingAndGlyphs">10</text>
<text x="517.4" y="699.5" class="l" text-anchor="middle" textLength="2.8" lengthAdjust="spacingAndGlyphs">9</text>
<text x="524.3" y="675.3000000000001" class="l" text-anchor="middle" textLength="5.6" lengthAdjust="spacingAndGlyphs">22</text>
<text x="525.4" y="731.0" class="l" text-anchor="middle" textLength="5.6" lengthAdjust="spacingAndGlyphs">10</text>
<text x="671.5" y="747.4000000000001" class="l" text-anchor="middle" textLength="5.6" lengthAdjust="spacingAndGlyphs">29</text>
<text x="745.6" y="786.2" class="l" text-anchor="middle" textLength="12.9" lengthAdjust="spacingAndGlyphs">29.1</text>
<text x="775.2" y="775.3000000000001" class="l" text-anchor="middle" textLength="12.9" lengthAdjust="spacingAndGlyphs">29.2</text>
<text x="799.3" y="766.0" class="l" text-anchor="middle" textLength="12.9" lengthAdjust="spacingAndGlyphs">29.3</text>
<text x="814" y="730.8000000000001" class="l" text-anchor="middle" textLength="12.9" lengthAdjust="spacingAndGlyphs">29.4</text>
<text x="836.3" y="722.3000000000001" class="l" text-anchor="middle" textLength="12.9" lengthAdjust="spacingAndGlyphs">29.4</text>
<text x="827" y="759.3000000000001" class="l" text-anchor="middle" textLength="12.9" lengthAdjust="spacingAndGlyphs">29.5</text>
<text x="847.4" y="752.3000000000001" class="l" text-anchor="middle" textLength="12.9" lengthAdjust="spacingAndGlyphs">29.5</text>
<text x="875.2" y="737.5" class="l" text-anchor="middle" textLength="12.9" lengthAdjust="spacingAndGlyphs">29.6</text>
<text x="896.3" y="764.1" class="l" text-anchor="middle" textLength="12.9" lengthAdjust="spacingAndGlyphs">29.7</text>
<text x="901.1" y="719.0" class="l" text-anchor="middle" textLength="12.9" lengthAdjust="spacingAndGlyphs">29.8</text>
<text x="927" y="710.4000000000001" class="l" text-anchor="middle" textLength="16.2" lengthAdjust="spacingAndGlyphs">29.10</text>
<text x="931.9" y="748.2" class="l" text-anchor="middle" textLength="12.9" lengthAdjust="spacingAndGlyphs">29.9</text>
<text x="956.7" y="737.5" class="l" text-anchor="middle" textLength="16.2" lengthAdjust="spacingAndGlyphs">29.11</text>
<text x="176.3" y="725.5" class="l" text-anchor="middle" textLength="5.6" lengthAdjust="spacingAndGlyphs">36</text></g>
</svg></body></html>
